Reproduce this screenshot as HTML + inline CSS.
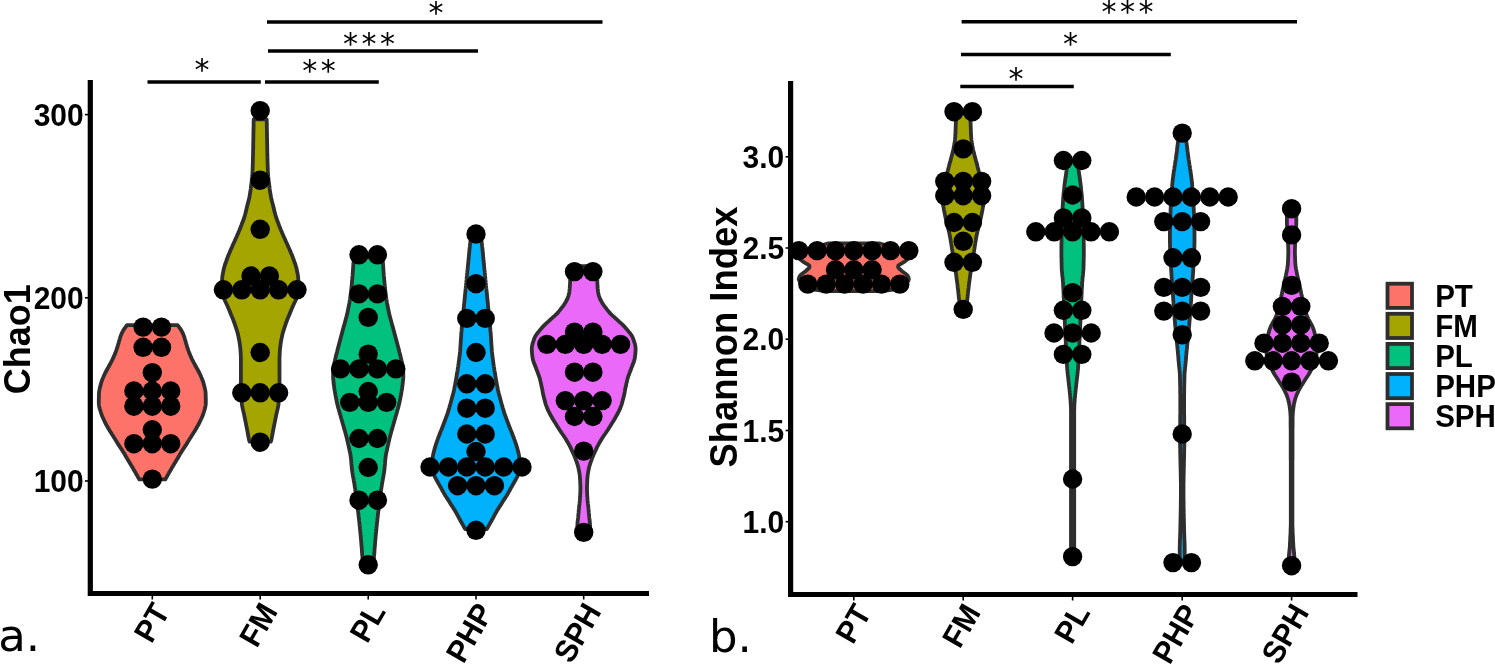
<!DOCTYPE html>
<html><head><meta charset="utf-8"><title>Violin plots</title>
<style>html,body{margin:0;padding:0;background:#fff}svg{display:block}</style>
</head><body>
<svg width="1495" height="664" viewBox="0 0 1495 664"><path d="M127.0,325.1 L125.9,326.6 L124.8,328.1 L123.8,329.6 L122.9,331.1 L122.1,332.6 L121.4,334.1 L120.8,335.6 L120.3,337.1 L119.9,338.6 L119.4,340.1 L119.0,341.6 L118.6,343.1 L118.1,344.6 L117.7,346.1 L117.2,347.6 L116.7,349.1 L116.2,350.6 L115.6,352.1 L115.1,353.6 L114.4,355.1 L113.8,356.6 L113.1,358.1 L112.4,359.6 L111.6,361.1 L110.9,362.6 L110.1,364.0 L109.3,365.5 L108.5,367.0 L107.6,368.5 L106.8,370.0 L106.0,371.5 L105.2,373.0 L104.5,374.5 L103.8,376.0 L103.2,377.5 L102.5,379.0 L102.0,380.5 L101.4,382.0 L101.0,383.5 L100.6,385.0 L100.2,386.5 L99.8,388.0 L99.5,389.5 L99.2,391.0 L99.0,392.5 L99.0,394.0 L98.9,395.5 L98.9,397.0 L98.8,398.5 L98.8,400.0 L98.8,401.5 L98.8,403.0 L98.9,404.5 L99.1,406.0 L99.4,407.5 L99.8,409.0 L100.3,410.5 L100.7,412.0 L101.2,413.5 L101.7,415.0 L102.3,416.5 L103.0,418.0 L103.7,419.5 L104.4,421.0 L105.1,422.5 L105.9,424.0 L106.7,425.5 L107.6,427.0 L108.4,428.5 L109.3,430.0 L110.2,431.5 L111.2,433.0 L112.1,434.5 L113.1,436.0 L114.0,437.5 L115.0,439.0 L115.9,440.5 L116.8,441.9 L117.7,443.4 L118.6,444.9 L119.6,446.4 L120.6,447.9 L121.6,449.4 L122.6,450.9 L123.5,452.4 L124.5,453.9 L125.3,455.4 L126.2,456.9 L127.1,458.4 L128.0,459.9 L128.9,461.4 L129.8,462.9 L130.7,464.4 L131.6,465.9 L132.5,467.4 L133.3,468.9 L134.2,470.4 L135.1,471.9 L135.9,473.4 L136.8,474.9 L137.6,476.4 L138.5,477.9 L139.4,479.4 L165.2,479.4 L166.1,477.9 L167.0,476.4 L167.8,474.9 L168.7,473.4 L169.5,471.9 L170.4,470.4 L171.3,468.9 L172.1,467.4 L173.0,465.9 L173.9,464.4 L174.8,462.9 L175.7,461.4 L176.6,459.9 L177.5,458.4 L178.4,456.9 L179.3,455.4 L180.1,453.9 L181.1,452.4 L182.0,450.9 L183.0,449.4 L184.0,447.9 L185.0,446.4 L186.0,444.9 L186.9,443.4 L187.8,441.9 L188.7,440.5 L189.6,439.0 L190.6,437.5 L191.5,436.0 L192.5,434.5 L193.4,433.0 L194.4,431.5 L195.3,430.0 L196.2,428.5 L197.0,427.0 L197.9,425.5 L198.7,424.0 L199.5,422.5 L200.2,421.0 L200.9,419.5 L201.6,418.0 L202.3,416.5 L202.9,415.0 L203.4,413.5 L203.9,412.0 L204.3,410.5 L204.8,409.0 L205.2,407.5 L205.5,406.0 L205.7,404.5 L205.8,403.0 L205.8,401.5 L205.8,400.0 L205.8,398.5 L205.7,397.0 L205.7,395.5 L205.6,394.0 L205.6,392.5 L205.4,391.0 L205.1,389.5 L204.8,388.0 L204.4,386.5 L204.0,385.0 L203.6,383.5 L203.2,382.0 L202.6,380.5 L202.1,379.0 L201.4,377.5 L200.8,376.0 L200.1,374.5 L199.4,373.0 L198.6,371.5 L197.8,370.0 L197.0,368.5 L196.1,367.0 L195.3,365.5 L194.5,364.0 L193.7,362.6 L193.0,361.1 L192.2,359.6 L191.5,358.1 L190.8,356.6 L190.2,355.1 L189.5,353.6 L189.0,352.1 L188.4,350.6 L187.9,349.1 L187.4,347.6 L186.9,346.1 L186.5,344.6 L186.0,343.1 L185.6,341.6 L185.2,340.1 L184.7,338.6 L184.3,337.1 L183.8,335.6 L183.2,334.1 L182.5,332.6 L181.7,331.1 L180.8,329.6 L179.8,328.1 L178.7,326.6 L177.6,325.1Z" fill="#FE7369" stroke="#2e2e2e" stroke-width="3.8" stroke-linejoin="round"/>
<path d="M253.7,119.4 L253.7,120.9 L253.6,122.4 L253.6,123.9 L253.6,125.4 L253.6,126.9 L253.5,128.4 L253.5,129.9 L253.5,131.4 L253.4,132.9 L253.4,134.4 L253.4,135.9 L253.4,137.4 L253.3,138.9 L253.3,140.4 L253.3,141.9 L253.2,143.4 L253.2,144.9 L253.2,146.4 L253.2,147.9 L253.1,149.4 L253.1,150.9 L253.1,152.4 L253.0,153.9 L253.0,155.4 L253.0,156.9 L252.9,158.4 L252.9,159.9 L252.9,161.4 L252.8,162.9 L252.8,164.4 L252.7,165.9 L252.7,167.4 L252.6,168.9 L252.6,170.4 L252.5,171.9 L252.4,173.4 L252.3,174.9 L252.2,176.4 L252.0,177.9 L251.8,179.4 L251.7,180.9 L251.5,182.4 L251.3,183.9 L251.1,185.4 L250.9,186.9 L250.8,188.4 L250.6,189.9 L250.4,191.4 L250.1,192.9 L249.9,194.4 L249.6,195.9 L249.4,197.4 L249.0,198.9 L248.7,200.3 L248.3,201.8 L247.9,203.3 L247.5,204.8 L247.1,206.3 L246.8,207.8 L246.4,209.3 L246.1,210.8 L245.7,212.3 L245.3,213.8 L244.9,215.3 L244.4,216.8 L243.9,218.3 L243.4,219.8 L242.9,221.3 L242.3,222.8 L241.7,224.3 L241.2,225.8 L240.6,227.3 L240.0,228.8 L239.4,230.3 L238.7,231.8 L238.1,233.3 L237.4,234.8 L236.8,236.3 L236.1,237.8 L235.4,239.3 L234.8,240.8 L234.1,242.3 L233.4,243.8 L232.7,245.3 L232.1,246.8 L231.4,248.3 L230.7,249.8 L230.1,251.3 L229.5,252.8 L228.8,254.3 L228.2,255.8 L227.6,257.3 L227.1,258.8 L226.5,260.3 L226.0,261.8 L225.5,263.3 L224.9,264.8 L224.5,266.3 L224.0,267.8 L223.7,269.3 L223.4,270.8 L223.1,272.3 L222.8,273.8 L222.5,275.3 L222.3,276.8 L222.2,278.3 L222.1,279.8 L222.0,281.3 L221.9,282.8 L221.8,284.3 L221.7,285.8 L221.7,287.3 L221.8,288.8 L221.9,290.3 L222.2,291.8 L222.6,293.3 L223.0,294.8 L223.5,296.3 L223.9,297.8 L224.4,299.3 L225.0,300.8 L225.7,302.3 L226.4,303.8 L227.1,305.3 L227.8,306.8 L228.4,308.3 L229.1,309.8 L229.7,311.3 L230.3,312.8 L230.9,314.3 L231.5,315.8 L232.2,317.3 L232.8,318.8 L233.4,320.3 L233.9,321.8 L234.5,323.3 L235.0,324.8 L235.5,326.3 L236.0,327.8 L236.5,329.3 L237.0,330.8 L237.4,332.3 L237.8,333.8 L238.2,335.3 L238.5,336.8 L238.8,338.3 L239.1,339.8 L239.4,341.3 L239.6,342.8 L239.8,344.3 L240.0,345.8 L240.2,347.3 L240.4,348.8 L240.5,350.3 L240.6,351.8 L240.7,353.3 L240.8,354.8 L240.8,356.3 L240.9,357.8 L240.9,359.3 L240.9,360.8 L240.9,362.2 L240.9,363.7 L240.9,365.2 L240.9,366.7 L240.9,368.2 L240.9,369.7 L240.9,371.2 L240.9,372.7 L240.9,374.2 L240.9,375.7 L240.9,377.2 L240.9,378.7 L240.9,380.2 L240.9,381.7 L240.9,383.2 L240.9,384.7 L240.9,386.2 L240.9,387.7 L240.9,389.2 L241.0,390.7 L241.0,392.2 L241.1,393.7 L241.2,395.2 L241.3,396.7 L241.4,398.2 L241.5,399.7 L241.6,401.2 L241.8,402.7 L241.9,404.2 L242.1,405.7 L242.4,407.2 L242.7,408.7 L243.1,410.2 L243.4,411.7 L243.8,413.2 L244.1,414.7 L244.4,416.2 L244.7,417.7 L245.0,419.2 L245.3,420.7 L245.6,422.2 L245.9,423.7 L246.2,425.2 L246.5,426.7 L246.8,428.2 L247.1,429.7 L247.4,431.2 L247.7,432.7 L247.9,434.2 L248.2,435.7 L248.5,437.2 L248.8,438.7 L249.1,440.2 L249.7,441.7 L270.7,441.7 L271.3,440.2 L271.6,438.7 L271.9,437.2 L272.2,435.7 L272.5,434.2 L272.7,432.7 L273.0,431.2 L273.3,429.7 L273.6,428.2 L273.9,426.7 L274.2,425.2 L274.5,423.7 L274.8,422.2 L275.1,420.7 L275.4,419.2 L275.7,417.7 L276.0,416.2 L276.3,414.7 L276.6,413.2 L277.0,411.7 L277.3,410.2 L277.7,408.7 L278.0,407.2 L278.3,405.7 L278.5,404.2 L278.6,402.7 L278.8,401.2 L278.9,399.7 L279.0,398.2 L279.1,396.7 L279.2,395.2 L279.3,393.7 L279.4,392.2 L279.4,390.7 L279.5,389.2 L279.5,387.7 L279.5,386.2 L279.5,384.7 L279.5,383.2 L279.5,381.7 L279.5,380.2 L279.5,378.7 L279.5,377.2 L279.5,375.7 L279.5,374.2 L279.5,372.7 L279.5,371.2 L279.5,369.7 L279.5,368.2 L279.5,366.7 L279.5,365.2 L279.5,363.7 L279.5,362.2 L279.5,360.8 L279.5,359.3 L279.5,357.8 L279.6,356.3 L279.6,354.8 L279.7,353.3 L279.8,351.8 L279.9,350.3 L280.0,348.8 L280.2,347.3 L280.4,345.8 L280.6,344.3 L280.8,342.8 L281.0,341.3 L281.3,339.8 L281.6,338.3 L281.9,336.8 L282.2,335.3 L282.6,333.8 L283.0,332.3 L283.4,330.8 L283.9,329.3 L284.4,327.8 L284.9,326.3 L285.4,324.8 L285.9,323.3 L286.5,321.8 L287.0,320.3 L287.6,318.8 L288.2,317.3 L288.9,315.8 L289.5,314.3 L290.1,312.8 L290.7,311.3 L291.3,309.8 L292.0,308.3 L292.6,306.8 L293.3,305.3 L294.0,303.8 L294.7,302.3 L295.4,300.8 L296.0,299.3 L296.5,297.8 L296.9,296.3 L297.4,294.8 L297.8,293.3 L298.2,291.8 L298.5,290.3 L298.6,288.8 L298.7,287.3 L298.7,285.8 L298.6,284.3 L298.5,282.8 L298.4,281.3 L298.3,279.8 L298.2,278.3 L298.1,276.8 L297.9,275.3 L297.6,273.8 L297.3,272.3 L297.0,270.8 L296.7,269.3 L296.4,267.8 L295.9,266.3 L295.5,264.8 L294.9,263.3 L294.4,261.8 L293.9,260.3 L293.3,258.8 L292.8,257.3 L292.2,255.8 L291.6,254.3 L290.9,252.8 L290.3,251.3 L289.7,249.8 L289.0,248.3 L288.3,246.8 L287.7,245.3 L287.0,243.8 L286.3,242.3 L285.6,240.8 L285.0,239.3 L284.3,237.8 L283.6,236.3 L283.0,234.8 L282.3,233.3 L281.7,231.8 L281.0,230.3 L280.4,228.8 L279.8,227.3 L279.2,225.8 L278.7,224.3 L278.1,222.8 L277.5,221.3 L277.0,219.8 L276.5,218.3 L276.0,216.8 L275.5,215.3 L275.1,213.8 L274.7,212.3 L274.3,210.8 L274.0,209.3 L273.6,207.8 L273.3,206.3 L272.9,204.8 L272.5,203.3 L272.1,201.8 L271.7,200.3 L271.4,198.9 L271.0,197.4 L270.8,195.9 L270.5,194.4 L270.3,192.9 L270.0,191.4 L269.8,189.9 L269.6,188.4 L269.5,186.9 L269.3,185.4 L269.1,183.9 L268.9,182.4 L268.7,180.9 L268.6,179.4 L268.4,177.9 L268.2,176.4 L268.1,174.9 L268.0,173.4 L267.9,171.9 L267.8,170.4 L267.8,168.9 L267.7,167.4 L267.7,165.9 L267.6,164.4 L267.6,162.9 L267.5,161.4 L267.5,159.9 L267.5,158.4 L267.4,156.9 L267.4,155.4 L267.4,153.9 L267.3,152.4 L267.3,150.9 L267.3,149.4 L267.2,147.9 L267.2,146.4 L267.2,144.9 L267.2,143.4 L267.1,141.9 L267.1,140.4 L267.1,138.9 L267.0,137.4 L267.0,135.9 L267.0,134.4 L267.0,132.9 L266.9,131.4 L266.9,129.9 L266.9,128.4 L266.8,126.9 L266.8,125.4 L266.8,123.9 L266.8,122.4 L266.7,120.9 L266.7,119.4Z" fill="#A5A500" stroke="#2e2e2e" stroke-width="3.8" stroke-linejoin="round"/>
<path d="M354.1,257.4 L353.9,258.9 L353.7,260.4 L353.6,261.9 L353.4,263.4 L353.3,264.9 L353.2,266.4 L353.1,267.9 L353.0,269.4 L352.9,270.9 L352.8,272.4 L352.7,273.9 L352.6,275.4 L352.4,276.8 L352.3,278.3 L352.2,279.8 L352.0,281.3 L351.9,282.8 L351.8,284.3 L351.6,285.8 L351.5,287.3 L351.3,288.8 L351.2,290.3 L351.0,291.8 L350.8,293.3 L350.6,294.8 L350.4,296.3 L350.2,297.8 L350.0,299.3 L349.7,300.8 L349.5,302.3 L349.2,303.8 L348.9,305.3 L348.6,306.8 L348.3,308.3 L348.0,309.8 L347.7,311.3 L347.4,312.8 L347.1,314.3 L346.7,315.7 L346.3,317.2 L345.9,318.7 L345.5,320.2 L345.1,321.7 L344.7,323.2 L344.3,324.7 L343.9,326.2 L343.4,327.7 L343.0,329.2 L342.6,330.7 L342.2,332.2 L341.8,333.7 L341.4,335.2 L341.0,336.7 L340.6,338.2 L340.2,339.7 L339.8,341.2 L339.4,342.7 L339.0,344.2 L338.6,345.7 L338.2,347.2 L337.8,348.7 L337.4,350.2 L337.1,351.7 L336.7,353.2 L336.3,354.6 L335.9,356.1 L335.6,357.6 L335.3,359.1 L334.9,360.6 L334.6,362.1 L334.2,363.6 L334.0,365.1 L333.8,366.6 L333.6,368.1 L333.5,369.6 L333.3,371.1 L333.2,372.6 L333.1,374.1 L333.1,375.6 L333.1,377.1 L333.2,378.6 L333.3,380.1 L333.5,381.6 L333.6,383.1 L333.8,384.6 L334.0,386.1 L334.2,387.6 L334.4,389.1 L334.7,390.6 L334.9,392.0 L335.2,393.5 L335.4,395.0 L335.7,396.5 L336.0,398.0 L336.3,399.5 L336.6,401.0 L336.9,402.5 L337.3,404.0 L337.6,405.5 L338.0,407.0 L338.4,408.5 L338.9,410.0 L339.3,411.5 L339.7,413.0 L340.1,414.5 L340.6,416.0 L341.0,417.5 L341.4,419.0 L341.9,420.5 L342.3,422.0 L342.7,423.5 L343.2,425.0 L343.6,426.5 L344.0,428.0 L344.4,429.5 L344.9,430.9 L345.3,432.4 L345.7,433.9 L346.1,435.4 L346.5,436.9 L346.9,438.4 L347.2,439.9 L347.6,441.4 L347.9,442.9 L348.2,444.4 L348.6,445.9 L348.9,447.4 L349.2,448.9 L349.5,450.4 L349.9,451.9 L350.2,453.4 L350.5,454.9 L350.7,456.4 L350.9,457.9 L351.1,459.4 L351.2,460.9 L351.3,462.4 L351.4,463.9 L351.6,465.4 L351.7,466.9 L351.8,468.3 L352.0,469.8 L352.2,471.3 L352.4,472.8 L352.7,474.3 L352.9,475.8 L353.2,477.3 L353.5,478.8 L353.7,480.3 L354.0,481.8 L354.3,483.3 L354.5,484.8 L354.7,486.3 L355.0,487.8 L355.2,489.3 L355.4,490.8 L355.6,492.3 L355.8,493.8 L356.0,495.3 L356.2,496.8 L356.4,498.3 L356.6,499.8 L356.8,501.3 L357.0,502.8 L357.2,504.3 L357.4,505.8 L357.6,507.2 L357.8,508.7 L357.9,510.2 L358.1,511.7 L358.3,513.2 L358.5,514.7 L358.6,516.2 L358.8,517.7 L359.0,519.2 L359.1,520.7 L359.3,522.2 L359.5,523.7 L359.6,525.2 L359.8,526.7 L359.9,528.2 L360.1,529.7 L360.2,531.2 L360.4,532.7 L360.5,534.2 L360.7,535.7 L360.8,537.2 L360.9,538.7 L361.1,540.2 L361.2,541.7 L361.3,543.2 L361.4,544.7 L361.5,546.1 L361.7,547.6 L361.8,549.1 L361.9,550.6 L362.0,552.1 L362.1,553.6 L362.2,555.1 L362.4,556.6 L362.5,558.1 L362.6,559.6 L362.8,561.1 L362.9,562.6 L363.1,564.1 L373.3,564.1 L373.5,562.6 L373.6,561.1 L373.8,559.6 L373.9,558.1 L374.0,556.6 L374.2,555.1 L374.3,553.6 L374.4,552.1 L374.5,550.6 L374.6,549.1 L374.7,547.6 L374.9,546.1 L375.0,544.7 L375.1,543.2 L375.2,541.7 L375.3,540.2 L375.5,538.7 L375.6,537.2 L375.7,535.7 L375.9,534.2 L376.0,532.7 L376.2,531.2 L376.3,529.7 L376.5,528.2 L376.6,526.7 L376.8,525.2 L376.9,523.7 L377.1,522.2 L377.3,520.7 L377.4,519.2 L377.6,517.7 L377.8,516.2 L377.9,514.7 L378.1,513.2 L378.3,511.7 L378.5,510.2 L378.6,508.7 L378.8,507.2 L379.0,505.8 L379.2,504.3 L379.4,502.8 L379.6,501.3 L379.8,499.8 L380.0,498.3 L380.2,496.8 L380.4,495.3 L380.6,493.8 L380.8,492.3 L381.0,490.8 L381.2,489.3 L381.4,487.8 L381.7,486.3 L381.9,484.8 L382.1,483.3 L382.4,481.8 L382.7,480.3 L382.9,478.8 L383.2,477.3 L383.5,475.8 L383.7,474.3 L384.0,472.8 L384.2,471.3 L384.4,469.8 L384.6,468.3 L384.7,466.9 L384.8,465.4 L385.0,463.9 L385.1,462.4 L385.2,460.9 L385.3,459.4 L385.5,457.9 L385.7,456.4 L385.9,454.9 L386.2,453.4 L386.5,451.9 L386.9,450.4 L387.2,448.9 L387.5,447.4 L387.8,445.9 L388.2,444.4 L388.5,442.9 L388.8,441.4 L389.2,439.9 L389.5,438.4 L389.9,436.9 L390.3,435.4 L390.7,433.9 L391.1,432.4 L391.5,430.9 L392.0,429.5 L392.4,428.0 L392.8,426.5 L393.2,425.0 L393.7,423.5 L394.1,422.0 L394.5,420.5 L395.0,419.0 L395.4,417.5 L395.8,416.0 L396.3,414.5 L396.7,413.0 L397.1,411.5 L397.5,410.0 L398.0,408.5 L398.4,407.0 L398.8,405.5 L399.1,404.0 L399.5,402.5 L399.8,401.0 L400.1,399.5 L400.4,398.0 L400.7,396.5 L401.0,395.0 L401.2,393.5 L401.5,392.0 L401.7,390.6 L402.0,389.1 L402.2,387.6 L402.4,386.1 L402.6,384.6 L402.8,383.1 L402.9,381.6 L403.1,380.1 L403.2,378.6 L403.3,377.1 L403.3,375.6 L403.3,374.1 L403.2,372.6 L403.1,371.1 L402.9,369.6 L402.8,368.1 L402.6,366.6 L402.4,365.1 L402.2,363.6 L401.8,362.1 L401.5,360.6 L401.1,359.1 L400.8,357.6 L400.5,356.1 L400.1,354.6 L399.7,353.2 L399.3,351.7 L399.0,350.2 L398.6,348.7 L398.2,347.2 L397.8,345.7 L397.4,344.2 L397.0,342.7 L396.6,341.2 L396.2,339.7 L395.8,338.2 L395.4,336.7 L395.0,335.2 L394.6,333.7 L394.2,332.2 L393.8,330.7 L393.4,329.2 L393.0,327.7 L392.5,326.2 L392.1,324.7 L391.7,323.2 L391.3,321.7 L390.9,320.2 L390.5,318.7 L390.1,317.2 L389.7,315.7 L389.3,314.3 L389.0,312.8 L388.7,311.3 L388.4,309.8 L388.1,308.3 L387.8,306.8 L387.5,305.3 L387.2,303.8 L386.9,302.3 L386.7,300.8 L386.4,299.3 L386.2,297.8 L386.0,296.3 L385.8,294.8 L385.6,293.3 L385.4,291.8 L385.2,290.3 L385.1,288.8 L384.9,287.3 L384.8,285.8 L384.6,284.3 L384.5,282.8 L384.4,281.3 L384.2,279.8 L384.1,278.3 L384.0,276.8 L383.8,275.4 L383.7,273.9 L383.6,272.4 L383.5,270.9 L383.4,269.4 L383.3,267.9 L383.2,266.4 L383.1,264.9 L383.0,263.4 L382.8,261.9 L382.7,260.4 L382.5,258.9 L382.3,257.4Z" fill="#00C27E" stroke="#2e2e2e" stroke-width="3.8" stroke-linejoin="round"/>
<path d="M470.9,237.9 L470.7,239.4 L470.5,240.9 L470.3,242.4 L470.1,243.9 L469.9,245.4 L469.8,246.9 L469.6,248.3 L469.5,249.8 L469.3,251.3 L469.2,252.8 L469.0,254.3 L468.9,255.8 L468.8,257.3 L468.6,258.8 L468.5,260.3 L468.3,261.8 L468.2,263.3 L468.0,264.8 L467.9,266.3 L467.7,267.8 L467.6,269.2 L467.4,270.7 L467.3,272.2 L467.1,273.7 L467.0,275.2 L466.8,276.7 L466.7,278.2 L466.6,279.7 L466.4,281.2 L466.3,282.7 L466.1,284.2 L466.0,285.7 L465.8,287.2 L465.7,288.7 L465.5,290.1 L465.4,291.6 L465.2,293.1 L465.1,294.6 L464.9,296.1 L464.8,297.6 L464.6,299.1 L464.5,300.6 L464.3,302.1 L464.2,303.6 L464.0,305.1 L463.9,306.6 L463.7,308.1 L463.6,309.6 L463.4,311.0 L463.3,312.5 L463.1,314.0 L463.0,315.5 L462.8,317.0 L462.7,318.5 L462.5,320.0 L462.4,321.5 L462.3,323.0 L462.1,324.5 L462.0,326.0 L461.8,327.5 L461.7,329.0 L461.6,330.5 L461.4,331.9 L461.3,333.4 L461.2,334.9 L461.1,336.4 L461.0,337.9 L460.9,339.4 L460.8,340.9 L460.7,342.4 L460.6,343.9 L460.5,345.4 L460.4,346.9 L460.3,348.4 L460.2,349.9 L460.1,351.4 L459.9,352.8 L459.8,354.3 L459.6,355.8 L459.4,357.3 L459.2,358.8 L459.0,360.3 L458.8,361.8 L458.6,363.3 L458.4,364.8 L458.2,366.3 L457.9,367.8 L457.7,369.3 L457.5,370.8 L457.2,372.3 L457.0,373.7 L456.7,375.2 L456.5,376.7 L456.3,378.2 L456.0,379.7 L455.7,381.2 L455.5,382.7 L455.2,384.2 L454.9,385.7 L454.6,387.2 L454.3,388.7 L454.0,390.2 L453.6,391.7 L453.3,393.2 L452.9,394.6 L452.5,396.1 L452.1,397.6 L451.7,399.1 L451.3,400.6 L450.9,402.1 L450.5,403.6 L450.0,405.1 L449.6,406.6 L449.2,408.1 L448.7,409.6 L448.2,411.1 L447.8,412.6 L447.3,414.1 L446.8,415.5 L446.2,417.0 L445.7,418.5 L445.2,420.0 L444.6,421.5 L444.0,423.0 L443.4,424.5 L442.9,426.0 L442.3,427.5 L441.7,429.0 L441.1,430.5 L440.4,432.0 L439.9,433.5 L439.3,435.0 L438.7,436.4 L438.2,437.9 L437.7,439.4 L437.1,440.9 L436.6,442.4 L436.1,443.9 L435.6,445.4 L435.2,446.9 L434.7,448.4 L434.3,449.9 L433.9,451.4 L433.5,452.9 L433.2,454.4 L432.9,455.9 L432.7,457.3 L432.5,458.8 L432.4,460.3 L432.4,461.8 L432.3,463.3 L432.3,464.8 L432.3,466.3 L432.4,467.8 L432.6,469.3 L432.9,470.8 L433.2,472.3 L433.6,473.8 L434.2,475.3 L434.8,476.8 L435.5,478.2 L436.3,479.7 L437.2,481.2 L438.0,482.7 L438.9,484.2 L439.7,485.7 L440.6,487.2 L441.4,488.7 L442.2,490.2 L443.1,491.7 L443.9,493.2 L444.8,494.7 L445.7,496.2 L446.7,497.7 L447.6,499.1 L448.6,500.6 L449.5,502.1 L450.4,503.6 L451.4,505.1 L452.4,506.6 L453.3,508.1 L454.3,509.6 L455.2,511.1 L456.0,512.6 L456.9,514.1 L457.7,515.6 L458.5,517.1 L459.3,518.6 L460.1,520.0 L460.9,521.5 L461.8,523.0 L462.6,524.5 L463.5,526.0 L464.3,527.5 L465.2,529.0 L486.8,529.0 L487.7,527.5 L488.5,526.0 L489.4,524.5 L490.2,523.0 L491.1,521.5 L491.9,520.0 L492.7,518.6 L493.5,517.1 L494.3,515.6 L495.1,514.1 L496.0,512.6 L496.8,511.1 L497.7,509.6 L498.7,508.1 L499.6,506.6 L500.6,505.1 L501.6,503.6 L502.5,502.1 L503.4,500.6 L504.4,499.1 L505.3,497.7 L506.3,496.2 L507.2,494.7 L508.1,493.2 L508.9,491.7 L509.8,490.2 L510.6,488.7 L511.4,487.2 L512.3,485.7 L513.1,484.2 L514.0,482.7 L514.8,481.2 L515.7,479.7 L516.5,478.2 L517.2,476.8 L517.8,475.3 L518.4,473.8 L518.8,472.3 L519.1,470.8 L519.4,469.3 L519.6,467.8 L519.7,466.3 L519.7,464.8 L519.7,463.3 L519.6,461.8 L519.6,460.3 L519.5,458.8 L519.3,457.3 L519.1,455.9 L518.8,454.4 L518.5,452.9 L518.1,451.4 L517.7,449.9 L517.3,448.4 L516.8,446.9 L516.4,445.4 L515.9,443.9 L515.4,442.4 L514.9,440.9 L514.3,439.4 L513.8,437.9 L513.3,436.4 L512.7,435.0 L512.1,433.5 L511.6,432.0 L510.9,430.5 L510.3,429.0 L509.7,427.5 L509.1,426.0 L508.6,424.5 L508.0,423.0 L507.4,421.5 L506.8,420.0 L506.3,418.5 L505.8,417.0 L505.2,415.5 L504.7,414.1 L504.2,412.6 L503.8,411.1 L503.3,409.6 L502.8,408.1 L502.4,406.6 L502.0,405.1 L501.5,403.6 L501.1,402.1 L500.7,400.6 L500.3,399.1 L499.9,397.6 L499.5,396.1 L499.1,394.6 L498.7,393.2 L498.4,391.7 L498.0,390.2 L497.7,388.7 L497.4,387.2 L497.1,385.7 L496.8,384.2 L496.5,382.7 L496.3,381.2 L496.0,379.7 L495.7,378.2 L495.5,376.7 L495.3,375.2 L495.0,373.7 L494.8,372.3 L494.5,370.8 L494.3,369.3 L494.1,367.8 L493.8,366.3 L493.6,364.8 L493.4,363.3 L493.2,361.8 L493.0,360.3 L492.8,358.8 L492.6,357.3 L492.4,355.8 L492.2,354.3 L492.1,352.8 L491.9,351.4 L491.8,349.9 L491.7,348.4 L491.6,346.9 L491.5,345.4 L491.4,343.9 L491.3,342.4 L491.2,340.9 L491.1,339.4 L491.0,337.9 L490.9,336.4 L490.8,334.9 L490.7,333.4 L490.6,331.9 L490.4,330.5 L490.3,329.0 L490.2,327.5 L490.0,326.0 L489.9,324.5 L489.7,323.0 L489.6,321.5 L489.5,320.0 L489.3,318.5 L489.2,317.0 L489.0,315.5 L488.9,314.0 L488.7,312.5 L488.6,311.0 L488.4,309.6 L488.3,308.1 L488.1,306.6 L488.0,305.1 L487.8,303.6 L487.7,302.1 L487.5,300.6 L487.4,299.1 L487.2,297.6 L487.1,296.1 L486.9,294.6 L486.8,293.1 L486.6,291.6 L486.5,290.1 L486.3,288.7 L486.2,287.2 L486.0,285.7 L485.9,284.2 L485.7,282.7 L485.6,281.2 L485.4,279.7 L485.3,278.2 L485.2,276.7 L485.0,275.2 L484.9,273.7 L484.7,272.2 L484.6,270.7 L484.4,269.2 L484.3,267.8 L484.1,266.3 L484.0,264.8 L483.8,263.3 L483.7,261.8 L483.5,260.3 L483.4,258.8 L483.2,257.3 L483.1,255.8 L483.0,254.3 L482.8,252.8 L482.7,251.3 L482.5,249.8 L482.4,248.3 L482.2,246.9 L482.1,245.4 L481.9,243.9 L481.7,242.4 L481.5,240.9 L481.3,239.4 L481.1,237.9Z" fill="#00B1FB" stroke="#2e2e2e" stroke-width="3.8" stroke-linejoin="round"/>
<path d="M570.6,266.1 L570.6,267.6 L570.6,269.1 L570.5,270.6 L570.5,272.1 L570.4,273.6 L570.4,275.1 L570.3,276.6 L570.3,278.1 L570.2,279.5 L570.1,281.0 L570.1,282.5 L570.0,284.0 L569.9,285.5 L569.8,287.0 L569.7,288.5 L569.5,290.0 L569.4,291.5 L569.2,293.0 L568.8,294.5 L568.4,296.0 L567.9,297.5 L567.3,299.0 L566.5,300.5 L565.7,302.0 L564.8,303.5 L563.8,305.0 L562.8,306.4 L561.6,307.9 L560.5,309.4 L559.3,310.9 L558.1,312.4 L556.7,313.9 L555.1,315.4 L553.4,316.9 L551.7,318.4 L550.1,319.9 L548.5,321.4 L546.8,322.9 L545.2,324.4 L543.7,325.9 L542.2,327.4 L540.9,328.9 L539.7,330.4 L538.5,331.9 L537.3,333.3 L536.3,334.8 L535.3,336.3 L534.6,337.8 L534.0,339.3 L533.5,340.8 L533.0,342.3 L532.5,343.8 L532.2,345.3 L531.9,346.8 L531.8,348.3 L531.8,349.8 L531.9,351.3 L532.0,352.8 L532.1,354.3 L532.3,355.8 L532.5,357.3 L532.7,358.8 L533.1,360.2 L533.5,361.7 L534.1,363.2 L534.7,364.7 L535.3,366.2 L535.9,367.7 L536.4,369.2 L537.0,370.7 L537.6,372.2 L538.1,373.7 L538.7,375.2 L539.2,376.7 L539.7,378.2 L540.1,379.7 L540.4,381.2 L540.8,382.7 L541.1,384.2 L541.4,385.7 L541.7,387.1 L542.1,388.6 L542.4,390.1 L542.6,391.6 L542.9,393.1 L543.2,394.6 L543.5,396.1 L543.9,397.6 L544.3,399.1 L544.7,400.6 L545.1,402.1 L545.5,403.6 L546.0,405.1 L546.6,406.6 L547.1,408.1 L547.8,409.6 L548.5,411.1 L549.2,412.5 L550.0,414.0 L550.8,415.5 L551.7,417.0 L552.5,418.5 L553.4,420.0 L554.3,421.5 L555.3,423.0 L556.2,424.5 L557.1,426.0 L558.1,427.5 L559.0,429.0 L560.0,430.5 L561.0,432.0 L562.0,433.5 L563.1,435.0 L564.1,436.5 L565.1,438.0 L566.0,439.4 L566.9,440.9 L567.8,442.4 L568.6,443.9 L569.4,445.4 L570.2,446.9 L570.9,448.4 L571.6,449.9 L572.3,451.4 L573.0,452.9 L573.7,454.4 L574.3,455.9 L574.9,457.4 L575.5,458.9 L576.0,460.4 L576.6,461.9 L577.1,463.4 L577.6,464.9 L578.0,466.3 L578.4,467.8 L578.7,469.3 L579.0,470.8 L579.3,472.3 L579.5,473.8 L579.7,475.3 L579.9,476.8 L580.0,478.3 L580.1,479.8 L580.2,481.3 L580.2,482.8 L580.3,484.3 L580.4,485.8 L580.4,487.3 L580.4,488.8 L580.4,490.3 L580.3,491.8 L580.3,493.2 L580.2,494.7 L580.1,496.2 L580.0,497.7 L579.9,499.2 L579.8,500.7 L579.6,502.2 L579.5,503.7 L579.3,505.2 L579.1,506.7 L579.0,508.2 L578.8,509.7 L578.7,511.2 L578.6,512.7 L578.4,514.2 L578.3,515.7 L578.2,517.2 L578.0,518.7 L577.8,520.1 L577.6,521.6 L577.5,523.1 L577.4,524.6 L577.3,526.1 L577.2,527.6 L577.2,529.1 L577.1,530.6 L577.1,532.1 L590.3,532.1 L590.3,530.6 L590.2,529.1 L590.2,527.6 L590.1,526.1 L590.0,524.6 L589.9,523.1 L589.8,521.6 L589.6,520.1 L589.4,518.7 L589.2,517.2 L589.1,515.7 L589.0,514.2 L588.8,512.7 L588.7,511.2 L588.6,509.7 L588.4,508.2 L588.3,506.7 L588.1,505.2 L587.9,503.7 L587.8,502.2 L587.6,500.7 L587.5,499.2 L587.4,497.7 L587.3,496.2 L587.2,494.7 L587.1,493.2 L587.1,491.8 L587.0,490.3 L587.0,488.8 L587.0,487.3 L587.0,485.8 L587.1,484.3 L587.2,482.8 L587.2,481.3 L587.3,479.8 L587.4,478.3 L587.5,476.8 L587.7,475.3 L587.9,473.8 L588.1,472.3 L588.4,470.8 L588.7,469.3 L589.0,467.8 L589.4,466.3 L589.8,464.9 L590.3,463.4 L590.8,461.9 L591.4,460.4 L591.9,458.9 L592.5,457.4 L593.1,455.9 L593.7,454.4 L594.4,452.9 L595.1,451.4 L595.8,449.9 L596.5,448.4 L597.2,446.9 L598.0,445.4 L598.8,443.9 L599.6,442.4 L600.5,440.9 L601.4,439.4 L602.3,438.0 L603.3,436.5 L604.3,435.0 L605.4,433.5 L606.4,432.0 L607.4,430.5 L608.4,429.0 L609.3,427.5 L610.3,426.0 L611.2,424.5 L612.1,423.0 L613.1,421.5 L614.0,420.0 L614.9,418.5 L615.7,417.0 L616.6,415.5 L617.4,414.0 L618.2,412.5 L618.9,411.1 L619.6,409.6 L620.3,408.1 L620.8,406.6 L621.4,405.1 L621.9,403.6 L622.3,402.1 L622.7,400.6 L623.1,399.1 L623.5,397.6 L623.9,396.1 L624.2,394.6 L624.5,393.1 L624.8,391.6 L625.0,390.1 L625.3,388.6 L625.7,387.1 L626.0,385.7 L626.3,384.2 L626.6,382.7 L627.0,381.2 L627.3,379.7 L627.7,378.2 L628.2,376.7 L628.7,375.2 L629.3,373.7 L629.8,372.2 L630.4,370.7 L631.0,369.2 L631.5,367.7 L632.1,366.2 L632.7,364.7 L633.3,363.2 L633.9,361.7 L634.3,360.2 L634.7,358.8 L634.9,357.3 L635.1,355.8 L635.3,354.3 L635.4,352.8 L635.5,351.3 L635.6,349.8 L635.6,348.3 L635.5,346.8 L635.2,345.3 L634.9,343.8 L634.4,342.3 L633.9,340.8 L633.4,339.3 L632.8,337.8 L632.1,336.3 L631.1,334.8 L630.1,333.3 L628.9,331.9 L627.7,330.4 L626.5,328.9 L625.2,327.4 L623.7,325.9 L622.2,324.4 L620.6,322.9 L618.9,321.4 L617.3,319.9 L615.7,318.4 L614.0,316.9 L612.3,315.4 L610.7,313.9 L609.3,312.4 L608.1,310.9 L606.9,309.4 L605.8,307.9 L604.6,306.4 L603.6,305.0 L602.6,303.5 L601.7,302.0 L600.9,300.5 L600.1,299.0 L599.5,297.5 L599.0,296.0 L598.6,294.5 L598.2,293.0 L598.0,291.5 L597.9,290.0 L597.7,288.5 L597.6,287.0 L597.5,285.5 L597.4,284.0 L597.3,282.5 L597.3,281.0 L597.2,279.5 L597.1,278.1 L597.1,276.6 L597.0,275.1 L597.0,273.6 L596.9,272.1 L596.9,270.6 L596.8,269.1 L596.8,267.6 L596.8,266.1Z" fill="#EA69F8" stroke="#2e2e2e" stroke-width="3.8" stroke-linejoin="round"/>
<g fill="#000"><circle cx="143.1" cy="327.1" r="9.7"/><circle cx="161.5" cy="327.1" r="9.7"/><circle cx="143.1" cy="347.3" r="9.7"/><circle cx="161.5" cy="347.3" r="9.7"/><circle cx="152.3" cy="372.6" r="9.7"/><circle cx="133.9" cy="391.0" r="9.7"/><circle cx="152.3" cy="391.0" r="9.7"/><circle cx="170.7" cy="391.0" r="9.7"/><circle cx="133.9" cy="406.2" r="9.7"/><circle cx="152.3" cy="406.2" r="9.7"/><circle cx="170.7" cy="406.2" r="9.7"/><circle cx="152.3" cy="429.8" r="9.7"/><circle cx="133.9" cy="443.7" r="9.7"/><circle cx="152.3" cy="443.7" r="9.7"/><circle cx="170.7" cy="443.7" r="9.7"/><circle cx="152.3" cy="479.1" r="9.7"/><circle cx="260.2" cy="110.7" r="9.7"/><circle cx="260.2" cy="180.2" r="9.7"/><circle cx="260.2" cy="229.3" r="9.7"/><circle cx="251.0" cy="276.0" r="9.7"/><circle cx="269.4" cy="276.0" r="9.7"/><circle cx="223.4" cy="289.8" r="9.7"/><circle cx="241.8" cy="289.8" r="9.7"/><circle cx="260.2" cy="289.8" r="9.7"/><circle cx="278.6" cy="289.8" r="9.7"/><circle cx="297.0" cy="289.8" r="9.7"/><circle cx="260.2" cy="352.5" r="9.7"/><circle cx="241.8" cy="392.8" r="9.7"/><circle cx="260.2" cy="392.8" r="9.7"/><circle cx="278.6" cy="392.8" r="9.7"/><circle cx="260.2" cy="442.2" r="9.7"/><circle cx="359.0" cy="254.8" r="9.7"/><circle cx="377.4" cy="254.8" r="9.7"/><circle cx="359.0" cy="293.9" r="9.7"/><circle cx="377.4" cy="293.9" r="9.7"/><circle cx="368.2" cy="317.4" r="9.7"/><circle cx="368.2" cy="354.1" r="9.7"/><circle cx="340.6" cy="368.9" r="9.7"/><circle cx="359.0" cy="368.9" r="9.7"/><circle cx="377.4" cy="368.9" r="9.7"/><circle cx="395.8" cy="368.9" r="9.7"/><circle cx="368.2" cy="391.5" r="9.7"/><circle cx="349.8" cy="402.4" r="9.7"/><circle cx="368.2" cy="402.4" r="9.7"/><circle cx="386.6" cy="402.4" r="9.7"/><circle cx="359.0" cy="438.5" r="9.7"/><circle cx="377.4" cy="438.5" r="9.7"/><circle cx="368.2" cy="467.5" r="9.7"/><circle cx="359.0" cy="500.2" r="9.7"/><circle cx="377.4" cy="500.2" r="9.7"/><circle cx="368.2" cy="564.8" r="9.7"/><circle cx="476.0" cy="234.0" r="9.7"/><circle cx="476.0" cy="283.7" r="9.7"/><circle cx="466.8" cy="318.4" r="9.7"/><circle cx="485.2" cy="318.4" r="9.7"/><circle cx="476.0" cy="352.5" r="9.7"/><circle cx="466.8" cy="383.8" r="9.7"/><circle cx="485.2" cy="383.8" r="9.7"/><circle cx="466.8" cy="408.2" r="9.7"/><circle cx="485.2" cy="408.2" r="9.7"/><circle cx="466.8" cy="434.0" r="9.7"/><circle cx="485.2" cy="434.0" r="9.7"/><circle cx="476.0" cy="451.5" r="9.7"/><circle cx="430.0" cy="467.0" r="9.7"/><circle cx="448.4" cy="467.0" r="9.7"/><circle cx="466.8" cy="467.0" r="9.7"/><circle cx="485.2" cy="467.0" r="9.7"/><circle cx="503.6" cy="467.0" r="9.7"/><circle cx="522.0" cy="467.0" r="9.7"/><circle cx="457.6" cy="485.7" r="9.7"/><circle cx="476.0" cy="485.7" r="9.7"/><circle cx="494.4" cy="485.7" r="9.7"/><circle cx="476.0" cy="530.3" r="9.7"/><circle cx="574.5" cy="271.6" r="9.7"/><circle cx="592.9" cy="271.6" r="9.7"/><circle cx="574.5" cy="332.1" r="9.7"/><circle cx="592.9" cy="332.1" r="9.7"/><circle cx="546.9" cy="344.4" r="9.7"/><circle cx="565.3" cy="344.4" r="9.7"/><circle cx="583.7" cy="344.4" r="9.7"/><circle cx="602.1" cy="344.4" r="9.7"/><circle cx="620.5" cy="344.4" r="9.7"/><circle cx="574.5" cy="372.2" r="9.7"/><circle cx="592.9" cy="372.2" r="9.7"/><circle cx="565.3" cy="400.6" r="9.7"/><circle cx="583.7" cy="400.6" r="9.7"/><circle cx="602.1" cy="400.6" r="9.7"/><circle cx="574.5" cy="416.5" r="9.7"/><circle cx="592.9" cy="416.5" r="9.7"/><circle cx="583.7" cy="451.1" r="9.7"/><circle cx="583.7" cy="532.4" r="9.7"/></g>
<path d="M827.7,243.5 L822.1,245.0 L817.8,246.5 L814.8,248.0 L812.1,249.4 L808.9,250.9 L804.3,252.4 L800.8,253.9 L799.2,255.4 L798.4,256.9 L799.1,258.4 L800.8,259.9 L802.6,261.4 L805.0,262.8 L807.6,264.3 L809.4,265.8 L809.5,267.3 L808.3,268.8 L806.5,270.3 L804.8,271.8 L802.8,273.2 L800.9,274.7 L799.7,276.2 L799.1,277.7 L798.7,279.2 L799.2,280.7 L801.0,282.2 L803.2,283.7 L805.2,285.2 L807.3,286.6 L810.1,288.1 L814.3,289.6 L825.7,291.1 L881.9,291.1 L893.3,289.6 L897.5,288.1 L900.3,286.6 L902.4,285.2 L904.4,283.7 L906.6,282.2 L908.4,280.7 L908.9,279.2 L908.5,277.7 L907.9,276.2 L906.7,274.7 L904.8,273.2 L902.8,271.8 L901.1,270.3 L899.3,268.8 L898.1,267.3 L898.2,265.8 L900.0,264.3 L902.6,262.8 L905.0,261.4 L906.8,259.9 L908.5,258.4 L909.2,256.9 L908.4,255.4 L906.8,253.9 L903.3,252.4 L898.7,250.9 L895.5,249.4 L892.8,248.0 L889.8,246.5 L885.5,245.0 L879.9,243.5Z" fill="#FE7369" stroke="#2e2e2e" stroke-width="3.8" stroke-linejoin="round"/>
<path d="M956.6,112.9 L956.5,114.4 L956.3,115.9 L956.2,117.4 L956.1,118.9 L956.0,120.4 L955.9,121.8 L955.8,123.3 L955.7,124.8 L955.7,126.3 L955.6,127.8 L955.6,129.3 L955.5,130.8 L955.5,132.3 L955.4,133.8 L955.3,135.3 L955.3,136.7 L955.1,138.2 L955.0,139.7 L954.8,141.2 L954.6,142.7 L954.4,144.2 L954.1,145.7 L953.8,147.2 L953.5,148.7 L953.2,150.2 L952.8,151.6 L952.5,153.1 L952.1,154.6 L951.7,156.1 L951.3,157.6 L950.9,159.1 L950.5,160.6 L950.0,162.1 L949.6,163.6 L949.2,165.1 L948.9,166.5 L948.5,168.0 L948.1,169.5 L947.7,171.0 L947.2,172.5 L946.7,174.0 L946.2,175.5 L945.6,177.0 L945.0,178.5 L944.5,180.0 L943.9,181.4 L943.4,182.9 L942.7,184.4 L942.2,185.9 L941.8,187.4 L941.6,188.9 L941.6,190.4 L941.6,191.9 L941.7,193.4 L941.7,194.9 L941.8,196.3 L941.8,197.8 L942.0,199.3 L942.2,200.8 L942.5,202.3 L942.8,203.8 L943.1,205.3 L943.4,206.8 L943.7,208.3 L943.9,209.8 L944.2,211.2 L944.5,212.7 L944.8,214.2 L945.1,215.7 L945.4,217.2 L945.8,218.7 L946.1,220.2 L946.5,221.7 L946.8,223.2 L947.2,224.7 L947.6,226.1 L948.0,227.6 L948.3,229.1 L948.7,230.6 L949.1,232.1 L949.4,233.6 L949.7,235.1 L950.0,236.6 L950.3,238.1 L950.5,239.6 L950.7,241.0 L951.0,242.5 L951.2,244.0 L951.5,245.5 L951.7,247.0 L951.9,248.5 L952.2,250.0 L952.4,251.5 L952.7,253.0 L952.9,254.5 L953.1,255.9 L953.4,257.4 L953.6,258.9 L953.8,260.4 L954.1,261.9 L954.3,263.4 L954.6,264.9 L954.8,266.4 L955.1,267.9 L955.3,269.4 L955.5,270.8 L955.8,272.3 L956.0,273.8 L956.2,275.3 L956.4,276.8 L956.6,278.3 L956.8,279.8 L957.0,281.3 L957.2,282.8 L957.4,284.3 L957.6,285.7 L957.7,287.2 L957.9,288.7 L958.1,290.2 L958.3,291.7 L958.4,293.2 L958.6,294.7 L958.7,296.2 L958.9,297.7 L959.1,299.2 L959.2,300.6 L959.4,302.1 L959.6,303.6 L959.8,305.1 L959.9,306.6 L960.1,308.1 L966.3,308.1 L966.5,306.6 L966.6,305.1 L966.8,303.6 L967.0,302.1 L967.2,300.6 L967.3,299.2 L967.5,297.7 L967.7,296.2 L967.8,294.7 L968.0,293.2 L968.1,291.7 L968.3,290.2 L968.5,288.7 L968.7,287.2 L968.8,285.7 L969.0,284.3 L969.2,282.8 L969.4,281.3 L969.6,279.8 L969.8,278.3 L970.0,276.8 L970.2,275.3 L970.4,273.8 L970.6,272.3 L970.9,270.8 L971.1,269.4 L971.3,267.9 L971.6,266.4 L971.8,264.9 L972.1,263.4 L972.3,261.9 L972.6,260.4 L972.8,258.9 L973.0,257.4 L973.3,255.9 L973.5,254.5 L973.7,253.0 L974.0,251.5 L974.2,250.0 L974.5,248.5 L974.7,247.0 L974.9,245.5 L975.2,244.0 L975.4,242.5 L975.7,241.0 L975.9,239.6 L976.1,238.1 L976.4,236.6 L976.7,235.1 L977.0,233.6 L977.3,232.1 L977.7,230.6 L978.1,229.1 L978.4,227.6 L978.8,226.1 L979.2,224.7 L979.6,223.2 L979.9,221.7 L980.3,220.2 L980.6,218.7 L981.0,217.2 L981.3,215.7 L981.6,214.2 L981.9,212.7 L982.2,211.2 L982.5,209.8 L982.7,208.3 L983.0,206.8 L983.3,205.3 L983.6,203.8 L983.9,202.3 L984.2,200.8 L984.4,199.3 L984.6,197.8 L984.6,196.3 L984.7,194.9 L984.7,193.4 L984.8,191.9 L984.8,190.4 L984.8,188.9 L984.6,187.4 L984.2,185.9 L983.7,184.4 L983.0,182.9 L982.5,181.4 L981.9,180.0 L981.4,178.5 L980.8,177.0 L980.2,175.5 L979.7,174.0 L979.2,172.5 L978.7,171.0 L978.3,169.5 L977.9,168.0 L977.5,166.5 L977.2,165.1 L976.8,163.6 L976.4,162.1 L975.9,160.6 L975.5,159.1 L975.1,157.6 L974.7,156.1 L974.3,154.6 L973.9,153.1 L973.6,151.6 L973.2,150.2 L972.9,148.7 L972.6,147.2 L972.3,145.7 L972.0,144.2 L971.8,142.7 L971.6,141.2 L971.4,139.7 L971.3,138.2 L971.1,136.7 L971.1,135.3 L971.0,133.8 L970.9,132.3 L970.9,130.8 L970.8,129.3 L970.8,127.8 L970.7,126.3 L970.7,124.8 L970.6,123.3 L970.5,121.8 L970.4,120.4 L970.3,118.9 L970.2,117.4 L970.1,115.9 L969.9,114.4 L969.8,112.9Z" fill="#A5A500" stroke="#2e2e2e" stroke-width="3.8" stroke-linejoin="round"/>
<path d="M1068.0,160.9 L1067.8,162.4 L1067.5,163.9 L1067.3,165.4 L1067.1,166.9 L1066.8,168.4 L1066.6,169.9 L1066.4,171.4 L1066.2,172.9 L1066.0,174.4 L1065.8,175.9 L1065.5,177.4 L1065.3,178.9 L1065.1,180.4 L1064.9,181.9 L1064.7,183.4 L1064.5,184.9 L1064.4,186.3 L1064.2,187.8 L1064.1,189.3 L1063.9,190.8 L1063.8,192.3 L1063.6,193.8 L1063.5,195.3 L1063.3,196.8 L1063.2,198.3 L1063.1,199.8 L1063.0,201.3 L1062.9,202.8 L1062.8,204.3 L1062.7,205.8 L1062.6,207.3 L1062.5,208.8 L1062.5,210.3 L1062.4,211.8 L1062.3,213.3 L1062.3,214.8 L1062.2,216.3 L1062.1,217.8 L1062.1,219.3 L1062.0,220.8 L1062.0,222.3 L1061.9,223.8 L1061.9,225.3 L1061.9,226.8 L1061.8,228.3 L1061.8,229.8 L1061.7,231.3 L1061.7,232.8 L1061.7,234.3 L1061.6,235.7 L1061.6,237.2 L1061.5,238.7 L1061.5,240.2 L1061.5,241.7 L1061.5,243.2 L1061.4,244.7 L1061.4,246.2 L1061.4,247.7 L1061.4,249.2 L1061.4,250.7 L1061.4,252.2 L1061.4,253.7 L1061.4,255.2 L1061.4,256.7 L1061.5,258.2 L1061.5,259.7 L1061.5,261.2 L1061.6,262.7 L1061.6,264.2 L1061.6,265.7 L1061.7,267.2 L1061.7,268.7 L1061.8,270.2 L1062.0,271.7 L1062.1,273.2 L1062.2,274.7 L1062.4,276.2 L1062.6,277.7 L1062.7,279.2 L1062.8,280.7 L1063.0,282.2 L1063.1,283.7 L1063.1,285.1 L1063.2,286.6 L1063.3,288.1 L1063.4,289.6 L1063.5,291.1 L1063.5,292.6 L1063.6,294.1 L1063.7,295.6 L1063.7,297.1 L1063.8,298.6 L1063.9,300.1 L1063.9,301.6 L1064.0,303.1 L1064.1,304.6 L1064.1,306.1 L1064.2,307.6 L1064.2,309.1 L1064.3,310.6 L1064.4,312.1 L1064.4,313.6 L1064.5,315.1 L1064.5,316.6 L1064.6,318.1 L1064.7,319.6 L1064.8,321.1 L1064.8,322.6 L1064.9,324.1 L1065.0,325.6 L1065.0,327.1 L1065.1,328.6 L1065.2,330.1 L1065.2,331.6 L1065.3,333.1 L1065.4,334.5 L1065.5,336.0 L1065.5,337.5 L1065.6,339.0 L1065.7,340.5 L1065.8,342.0 L1065.8,343.5 L1065.9,345.0 L1066.0,346.5 L1066.0,348.0 L1066.1,349.5 L1066.2,351.0 L1066.3,352.5 L1066.3,354.0 L1066.4,355.5 L1066.5,357.0 L1066.6,358.5 L1066.6,360.0 L1066.7,361.5 L1066.8,363.0 L1066.9,364.5 L1067.0,366.0 L1067.1,367.5 L1067.2,369.0 L1067.4,370.5 L1067.5,372.0 L1067.7,373.5 L1067.8,375.0 L1068.0,376.5 L1068.2,378.0 L1068.4,379.5 L1068.5,381.0 L1068.7,382.5 L1068.9,383.9 L1069.0,385.4 L1069.2,386.9 L1069.4,388.4 L1069.5,389.9 L1069.7,391.4 L1069.8,392.9 L1070.0,394.4 L1070.1,395.9 L1070.3,397.4 L1070.4,398.9 L1070.5,400.4 L1070.6,401.9 L1070.7,403.4 L1070.8,404.9 L1070.9,406.4 L1070.9,407.9 L1071.0,409.4 L1071.0,410.9 L1071.0,412.4 L1071.0,413.9 L1071.0,415.4 L1071.0,416.9 L1071.0,418.4 L1071.0,419.9 L1071.0,421.4 L1071.0,422.9 L1071.0,424.4 L1071.0,425.9 L1071.0,427.4 L1071.0,428.9 L1071.0,430.4 L1071.0,431.9 L1071.0,433.3 L1071.0,434.8 L1071.0,436.3 L1071.0,437.8 L1071.0,439.3 L1071.0,440.8 L1071.0,442.3 L1071.0,443.8 L1071.0,445.3 L1071.0,446.8 L1071.0,448.3 L1071.0,449.8 L1071.0,451.3 L1071.0,452.8 L1071.0,454.3 L1071.0,455.8 L1071.0,457.3 L1071.0,458.8 L1071.0,460.3 L1071.0,461.8 L1071.0,463.3 L1071.0,464.8 L1071.0,466.3 L1071.0,467.8 L1071.0,469.3 L1071.0,470.8 L1071.0,472.3 L1071.0,473.8 L1071.0,475.3 L1071.0,476.8 L1071.0,478.3 L1071.0,479.8 L1071.0,481.3 L1071.0,482.7 L1071.0,484.2 L1071.0,485.7 L1071.0,487.2 L1071.0,488.7 L1071.0,490.2 L1071.0,491.7 L1071.0,493.2 L1071.0,494.7 L1071.0,496.2 L1071.0,497.7 L1071.0,499.2 L1071.0,500.7 L1071.0,502.2 L1071.0,503.7 L1071.0,505.2 L1071.0,506.7 L1071.0,508.2 L1071.0,509.7 L1071.0,511.2 L1071.0,512.7 L1071.0,514.2 L1071.0,515.7 L1071.0,517.2 L1071.0,518.7 L1071.0,520.2 L1071.0,521.7 L1071.0,523.2 L1071.0,524.7 L1071.0,526.2 L1071.0,527.7 L1071.0,529.2 L1071.0,530.7 L1071.0,532.1 L1071.0,533.6 L1071.0,535.1 L1071.0,536.6 L1071.0,538.1 L1071.0,539.6 L1071.0,541.1 L1071.0,542.6 L1071.0,544.1 L1071.0,545.6 L1071.0,547.1 L1071.0,548.6 L1071.0,550.1 L1071.0,551.6 L1071.0,553.1 L1071.0,554.6 L1071.0,556.1 L1074.2,556.1 L1074.2,554.6 L1074.2,553.1 L1074.2,551.6 L1074.2,550.1 L1074.2,548.6 L1074.2,547.1 L1074.2,545.6 L1074.2,544.1 L1074.2,542.6 L1074.2,541.1 L1074.2,539.6 L1074.2,538.1 L1074.2,536.6 L1074.2,535.1 L1074.2,533.6 L1074.2,532.1 L1074.2,530.7 L1074.2,529.2 L1074.2,527.7 L1074.2,526.2 L1074.2,524.7 L1074.2,523.2 L1074.2,521.7 L1074.2,520.2 L1074.2,518.7 L1074.2,517.2 L1074.2,515.7 L1074.2,514.2 L1074.2,512.7 L1074.2,511.2 L1074.2,509.7 L1074.2,508.2 L1074.2,506.7 L1074.2,505.2 L1074.2,503.7 L1074.2,502.2 L1074.2,500.7 L1074.2,499.2 L1074.2,497.7 L1074.2,496.2 L1074.2,494.7 L1074.2,493.2 L1074.2,491.7 L1074.2,490.2 L1074.2,488.7 L1074.2,487.2 L1074.2,485.7 L1074.2,484.2 L1074.2,482.7 L1074.2,481.3 L1074.2,479.8 L1074.2,478.3 L1074.2,476.8 L1074.2,475.3 L1074.2,473.8 L1074.2,472.3 L1074.2,470.8 L1074.2,469.3 L1074.2,467.8 L1074.2,466.3 L1074.2,464.8 L1074.2,463.3 L1074.2,461.8 L1074.2,460.3 L1074.2,458.8 L1074.2,457.3 L1074.2,455.8 L1074.2,454.3 L1074.2,452.8 L1074.2,451.3 L1074.2,449.8 L1074.2,448.3 L1074.2,446.8 L1074.2,445.3 L1074.2,443.8 L1074.2,442.3 L1074.2,440.8 L1074.2,439.3 L1074.2,437.8 L1074.2,436.3 L1074.2,434.8 L1074.2,433.3 L1074.2,431.9 L1074.2,430.4 L1074.2,428.9 L1074.2,427.4 L1074.2,425.9 L1074.2,424.4 L1074.2,422.9 L1074.2,421.4 L1074.2,419.9 L1074.2,418.4 L1074.2,416.9 L1074.2,415.4 L1074.2,413.9 L1074.2,412.4 L1074.2,410.9 L1074.2,409.4 L1074.3,407.9 L1074.3,406.4 L1074.4,404.9 L1074.5,403.4 L1074.6,401.9 L1074.7,400.4 L1074.8,398.9 L1074.9,397.4 L1075.1,395.9 L1075.2,394.4 L1075.4,392.9 L1075.5,391.4 L1075.7,389.9 L1075.8,388.4 L1076.0,386.9 L1076.2,385.4 L1076.3,383.9 L1076.5,382.5 L1076.7,381.0 L1076.8,379.5 L1077.0,378.0 L1077.2,376.5 L1077.4,375.0 L1077.5,373.5 L1077.7,372.0 L1077.8,370.5 L1078.0,369.0 L1078.1,367.5 L1078.2,366.0 L1078.3,364.5 L1078.4,363.0 L1078.5,361.5 L1078.6,360.0 L1078.6,358.5 L1078.7,357.0 L1078.8,355.5 L1078.9,354.0 L1078.9,352.5 L1079.0,351.0 L1079.1,349.5 L1079.2,348.0 L1079.2,346.5 L1079.3,345.0 L1079.4,343.5 L1079.4,342.0 L1079.5,340.5 L1079.6,339.0 L1079.7,337.5 L1079.7,336.0 L1079.8,334.5 L1079.9,333.1 L1080.0,331.6 L1080.0,330.1 L1080.1,328.6 L1080.2,327.1 L1080.2,325.6 L1080.3,324.1 L1080.4,322.6 L1080.4,321.1 L1080.5,319.6 L1080.6,318.1 L1080.7,316.6 L1080.7,315.1 L1080.8,313.6 L1080.8,312.1 L1080.9,310.6 L1081.0,309.1 L1081.0,307.6 L1081.1,306.1 L1081.1,304.6 L1081.2,303.1 L1081.3,301.6 L1081.3,300.1 L1081.4,298.6 L1081.5,297.1 L1081.5,295.6 L1081.6,294.1 L1081.7,292.6 L1081.7,291.1 L1081.8,289.6 L1081.9,288.1 L1082.0,286.6 L1082.1,285.1 L1082.1,283.7 L1082.2,282.2 L1082.4,280.7 L1082.5,279.2 L1082.6,277.7 L1082.8,276.2 L1083.0,274.7 L1083.1,273.2 L1083.2,271.7 L1083.4,270.2 L1083.5,268.7 L1083.5,267.2 L1083.6,265.7 L1083.6,264.2 L1083.6,262.7 L1083.7,261.2 L1083.7,259.7 L1083.7,258.2 L1083.8,256.7 L1083.8,255.2 L1083.8,253.7 L1083.8,252.2 L1083.8,250.7 L1083.8,249.2 L1083.8,247.7 L1083.8,246.2 L1083.8,244.7 L1083.7,243.2 L1083.7,241.7 L1083.7,240.2 L1083.7,238.7 L1083.6,237.2 L1083.6,235.7 L1083.5,234.3 L1083.5,232.8 L1083.5,231.3 L1083.4,229.8 L1083.4,228.3 L1083.3,226.8 L1083.3,225.3 L1083.3,223.8 L1083.2,222.3 L1083.2,220.8 L1083.1,219.3 L1083.1,217.8 L1083.0,216.3 L1082.9,214.8 L1082.9,213.3 L1082.8,211.8 L1082.7,210.3 L1082.7,208.8 L1082.6,207.3 L1082.5,205.8 L1082.4,204.3 L1082.3,202.8 L1082.2,201.3 L1082.1,199.8 L1082.0,198.3 L1081.9,196.8 L1081.7,195.3 L1081.6,193.8 L1081.4,192.3 L1081.3,190.8 L1081.1,189.3 L1081.0,187.8 L1080.8,186.3 L1080.7,184.9 L1080.5,183.4 L1080.3,181.9 L1080.1,180.4 L1079.9,178.9 L1079.7,177.4 L1079.4,175.9 L1079.2,174.4 L1079.0,172.9 L1078.8,171.4 L1078.6,169.9 L1078.4,168.4 L1078.1,166.9 L1077.9,165.4 L1077.7,163.9 L1077.4,162.4 L1077.2,160.9Z" fill="#00C27E" stroke="#2e2e2e" stroke-width="3.8" stroke-linejoin="round"/>
<path d="M1179.1,135.9 L1178.8,137.4 L1178.6,138.9 L1178.3,140.4 L1178.0,141.9 L1177.8,143.4 L1177.6,144.9 L1177.4,146.4 L1177.2,147.9 L1177.0,149.4 L1176.9,150.9 L1176.7,152.3 L1176.5,153.8 L1176.3,155.3 L1176.1,156.8 L1175.9,158.3 L1175.7,159.8 L1175.4,161.3 L1175.2,162.8 L1175.0,164.3 L1174.7,165.8 L1174.5,167.3 L1174.3,168.8 L1174.0,170.3 L1173.8,171.8 L1173.6,173.3 L1173.4,174.8 L1173.2,176.3 L1173.0,177.8 L1172.8,179.3 L1172.6,180.8 L1172.5,182.3 L1172.3,183.8 L1172.2,185.2 L1172.1,186.7 L1171.9,188.2 L1171.8,189.7 L1171.7,191.2 L1171.6,192.7 L1171.5,194.2 L1171.4,195.7 L1171.3,197.2 L1171.2,198.7 L1171.1,200.2 L1171.0,201.7 L1170.9,203.2 L1170.9,204.7 L1170.8,206.2 L1170.7,207.7 L1170.6,209.2 L1170.6,210.7 L1170.5,212.2 L1170.5,213.7 L1170.4,215.2 L1170.4,216.7 L1170.3,218.1 L1170.2,219.6 L1170.2,221.1 L1170.1,222.6 L1170.1,224.1 L1170.1,225.6 L1170.0,227.1 L1170.0,228.6 L1170.0,230.1 L1169.9,231.6 L1169.9,233.1 L1169.9,234.6 L1169.9,236.1 L1169.9,237.6 L1169.9,239.1 L1169.9,240.6 L1169.9,242.1 L1170.0,243.6 L1170.0,245.1 L1170.0,246.6 L1170.1,248.1 L1170.1,249.6 L1170.1,251.0 L1170.2,252.5 L1170.2,254.0 L1170.3,255.5 L1170.4,257.0 L1170.5,258.5 L1170.6,260.0 L1170.7,261.5 L1170.8,263.0 L1170.9,264.5 L1171.0,266.0 L1171.1,267.5 L1171.1,269.0 L1171.2,270.5 L1171.3,272.0 L1171.4,273.5 L1171.5,275.0 L1171.6,276.5 L1171.7,278.0 L1171.8,279.5 L1171.9,281.0 L1172.0,282.5 L1172.1,283.9 L1172.2,285.4 L1172.4,286.9 L1172.5,288.4 L1172.6,289.9 L1172.7,291.4 L1172.8,292.9 L1172.9,294.4 L1173.0,295.9 L1173.1,297.4 L1173.2,298.9 L1173.3,300.4 L1173.4,301.9 L1173.5,303.4 L1173.6,304.9 L1173.8,306.4 L1173.9,307.9 L1174.0,309.4 L1174.1,310.9 L1174.2,312.4 L1174.3,313.9 L1174.4,315.4 L1174.5,316.8 L1174.6,318.3 L1174.7,319.8 L1174.9,321.3 L1175.0,322.8 L1175.1,324.3 L1175.2,325.8 L1175.4,327.3 L1175.5,328.8 L1175.6,330.3 L1175.8,331.8 L1175.9,333.3 L1176.1,334.8 L1176.2,336.3 L1176.4,337.8 L1176.6,339.3 L1176.7,340.8 L1176.9,342.3 L1177.0,343.8 L1177.2,345.3 L1177.3,346.8 L1177.5,348.3 L1177.6,349.7 L1177.8,351.2 L1177.9,352.7 L1178.0,354.2 L1178.2,355.7 L1178.3,357.2 L1178.4,358.7 L1178.5,360.2 L1178.7,361.7 L1178.8,363.2 L1179.0,364.7 L1179.1,366.2 L1179.3,367.7 L1179.4,369.2 L1179.6,370.7 L1179.7,372.2 L1179.8,373.7 L1179.9,375.2 L1179.9,376.7 L1180.0,378.2 L1180.0,379.7 L1180.0,381.2 L1180.1,382.6 L1180.1,384.1 L1180.1,385.6 L1180.2,387.1 L1180.2,388.6 L1180.2,390.1 L1180.2,391.6 L1180.2,393.1 L1180.3,394.6 L1180.3,396.1 L1180.3,397.6 L1180.3,399.1 L1180.3,400.6 L1180.3,402.1 L1180.3,403.6 L1180.3,405.1 L1180.3,406.6 L1180.3,408.1 L1180.3,409.6 L1180.3,411.1 L1180.3,412.6 L1180.3,414.1 L1180.2,415.5 L1180.2,417.0 L1180.2,418.5 L1180.2,420.0 L1180.2,421.5 L1180.2,423.0 L1180.2,424.5 L1180.2,426.0 L1180.2,427.5 L1180.1,429.0 L1180.1,430.5 L1180.1,432.0 L1180.1,433.5 L1180.1,435.0 L1180.1,436.5 L1180.1,438.0 L1180.1,439.5 L1180.1,441.0 L1180.1,442.5 L1180.1,444.0 L1180.1,445.5 L1180.1,447.0 L1180.2,448.4 L1180.2,449.9 L1180.2,451.4 L1180.2,452.9 L1180.3,454.4 L1180.3,455.9 L1180.3,457.4 L1180.4,458.9 L1180.4,460.4 L1180.4,461.9 L1180.5,463.4 L1180.5,464.9 L1180.5,466.4 L1180.6,467.9 L1180.6,469.4 L1180.6,470.9 L1180.7,472.4 L1180.7,473.9 L1180.7,475.4 L1180.8,476.9 L1180.8,478.4 L1180.8,479.9 L1180.8,481.3 L1180.9,482.8 L1180.9,484.3 L1180.9,485.8 L1180.9,487.3 L1180.9,488.8 L1180.9,490.3 L1180.9,491.8 L1180.9,493.3 L1180.9,494.8 L1180.9,496.3 L1180.9,497.8 L1180.9,499.3 L1180.8,500.8 L1180.8,502.3 L1180.8,503.8 L1180.8,505.3 L1180.8,506.8 L1180.7,508.3 L1180.7,509.8 L1180.7,511.3 L1180.7,512.8 L1180.6,514.2 L1180.6,515.7 L1180.6,517.2 L1180.5,518.7 L1180.5,520.2 L1180.5,521.7 L1180.4,523.2 L1180.4,524.7 L1180.4,526.2 L1180.3,527.7 L1180.3,529.2 L1180.3,530.7 L1180.2,532.2 L1180.2,533.7 L1180.1,535.2 L1180.1,536.7 L1180.0,538.2 L1180.0,539.7 L1179.9,541.2 L1179.8,542.7 L1179.8,544.2 L1179.8,545.7 L1179.7,547.1 L1179.7,548.6 L1179.7,550.1 L1179.7,551.6 L1179.7,553.1 L1179.7,554.6 L1179.7,556.1 L1179.7,557.6 L1179.7,559.1 L1179.7,560.6 L1179.7,562.1 L1184.7,562.1 L1184.7,560.6 L1184.7,559.1 L1184.7,557.6 L1184.7,556.1 L1184.7,554.6 L1184.7,553.1 L1184.7,551.6 L1184.7,550.1 L1184.7,548.6 L1184.7,547.1 L1184.6,545.7 L1184.6,544.2 L1184.6,542.7 L1184.5,541.2 L1184.4,539.7 L1184.4,538.2 L1184.3,536.7 L1184.3,535.2 L1184.2,533.7 L1184.2,532.2 L1184.1,530.7 L1184.1,529.2 L1184.1,527.7 L1184.0,526.2 L1184.0,524.7 L1184.0,523.2 L1183.9,521.7 L1183.9,520.2 L1183.9,518.7 L1183.8,517.2 L1183.8,515.7 L1183.8,514.2 L1183.7,512.8 L1183.7,511.3 L1183.7,509.8 L1183.7,508.3 L1183.6,506.8 L1183.6,505.3 L1183.6,503.8 L1183.6,502.3 L1183.6,500.8 L1183.5,499.3 L1183.5,497.8 L1183.5,496.3 L1183.5,494.8 L1183.5,493.3 L1183.5,491.8 L1183.5,490.3 L1183.5,488.8 L1183.5,487.3 L1183.5,485.8 L1183.5,484.3 L1183.5,482.8 L1183.6,481.3 L1183.6,479.9 L1183.6,478.4 L1183.6,476.9 L1183.7,475.4 L1183.7,473.9 L1183.7,472.4 L1183.8,470.9 L1183.8,469.4 L1183.8,467.9 L1183.9,466.4 L1183.9,464.9 L1183.9,463.4 L1184.0,461.9 L1184.0,460.4 L1184.0,458.9 L1184.1,457.4 L1184.1,455.9 L1184.1,454.4 L1184.2,452.9 L1184.2,451.4 L1184.2,449.9 L1184.2,448.4 L1184.3,447.0 L1184.3,445.5 L1184.3,444.0 L1184.3,442.5 L1184.3,441.0 L1184.3,439.5 L1184.3,438.0 L1184.3,436.5 L1184.3,435.0 L1184.3,433.5 L1184.3,432.0 L1184.3,430.5 L1184.3,429.0 L1184.2,427.5 L1184.2,426.0 L1184.2,424.5 L1184.2,423.0 L1184.2,421.5 L1184.2,420.0 L1184.2,418.5 L1184.2,417.0 L1184.2,415.5 L1184.1,414.1 L1184.1,412.6 L1184.1,411.1 L1184.1,409.6 L1184.1,408.1 L1184.1,406.6 L1184.1,405.1 L1184.1,403.6 L1184.1,402.1 L1184.1,400.6 L1184.1,399.1 L1184.1,397.6 L1184.1,396.1 L1184.1,394.6 L1184.2,393.1 L1184.2,391.6 L1184.2,390.1 L1184.2,388.6 L1184.2,387.1 L1184.3,385.6 L1184.3,384.1 L1184.3,382.6 L1184.4,381.2 L1184.4,379.7 L1184.4,378.2 L1184.5,376.7 L1184.5,375.2 L1184.6,373.7 L1184.7,372.2 L1184.8,370.7 L1185.0,369.2 L1185.1,367.7 L1185.3,366.2 L1185.4,364.7 L1185.6,363.2 L1185.7,361.7 L1185.9,360.2 L1186.0,358.7 L1186.1,357.2 L1186.2,355.7 L1186.4,354.2 L1186.5,352.7 L1186.6,351.2 L1186.8,349.7 L1186.9,348.3 L1187.1,346.8 L1187.2,345.3 L1187.4,343.8 L1187.5,342.3 L1187.7,340.8 L1187.8,339.3 L1188.0,337.8 L1188.2,336.3 L1188.3,334.8 L1188.5,333.3 L1188.6,331.8 L1188.8,330.3 L1188.9,328.8 L1189.0,327.3 L1189.2,325.8 L1189.3,324.3 L1189.4,322.8 L1189.5,321.3 L1189.7,319.8 L1189.8,318.3 L1189.9,316.8 L1190.0,315.4 L1190.1,313.9 L1190.2,312.4 L1190.3,310.9 L1190.4,309.4 L1190.5,307.9 L1190.6,306.4 L1190.8,304.9 L1190.9,303.4 L1191.0,301.9 L1191.1,300.4 L1191.2,298.9 L1191.3,297.4 L1191.4,295.9 L1191.5,294.4 L1191.6,292.9 L1191.7,291.4 L1191.8,289.9 L1191.9,288.4 L1192.0,286.9 L1192.2,285.4 L1192.3,283.9 L1192.4,282.5 L1192.5,281.0 L1192.6,279.5 L1192.7,278.0 L1192.8,276.5 L1192.9,275.0 L1193.0,273.5 L1193.1,272.0 L1193.2,270.5 L1193.3,269.0 L1193.3,267.5 L1193.4,266.0 L1193.5,264.5 L1193.6,263.0 L1193.7,261.5 L1193.8,260.0 L1193.9,258.5 L1194.0,257.0 L1194.1,255.5 L1194.2,254.0 L1194.2,252.5 L1194.3,251.0 L1194.3,249.6 L1194.3,248.1 L1194.4,246.6 L1194.4,245.1 L1194.4,243.6 L1194.5,242.1 L1194.5,240.6 L1194.5,239.1 L1194.5,237.6 L1194.5,236.1 L1194.5,234.6 L1194.5,233.1 L1194.5,231.6 L1194.4,230.1 L1194.4,228.6 L1194.4,227.1 L1194.3,225.6 L1194.3,224.1 L1194.3,222.6 L1194.2,221.1 L1194.2,219.6 L1194.1,218.1 L1194.0,216.7 L1194.0,215.2 L1193.9,213.7 L1193.9,212.2 L1193.8,210.7 L1193.8,209.2 L1193.7,207.7 L1193.6,206.2 L1193.5,204.7 L1193.5,203.2 L1193.4,201.7 L1193.3,200.2 L1193.2,198.7 L1193.1,197.2 L1193.0,195.7 L1192.9,194.2 L1192.8,192.7 L1192.7,191.2 L1192.6,189.7 L1192.5,188.2 L1192.3,186.7 L1192.2,185.2 L1192.1,183.8 L1191.9,182.3 L1191.8,180.8 L1191.6,179.3 L1191.4,177.8 L1191.2,176.3 L1191.0,174.8 L1190.8,173.3 L1190.6,171.8 L1190.4,170.3 L1190.1,168.8 L1189.9,167.3 L1189.7,165.8 L1189.4,164.3 L1189.2,162.8 L1189.0,161.3 L1188.7,159.8 L1188.5,158.3 L1188.3,156.8 L1188.1,155.3 L1187.9,153.8 L1187.7,152.3 L1187.5,150.9 L1187.4,149.4 L1187.2,147.9 L1187.0,146.4 L1186.8,144.9 L1186.6,143.4 L1186.4,141.9 L1186.1,140.4 L1185.8,138.9 L1185.6,137.4 L1185.3,135.9Z" fill="#00B1FB" stroke="#2e2e2e" stroke-width="3.8" stroke-linejoin="round"/>
<path d="M1286.9,208.9 L1286.9,210.4 L1286.9,211.9 L1286.9,213.4 L1286.9,214.9 L1286.9,216.4 L1286.9,217.9 L1286.9,219.4 L1286.9,220.9 L1286.9,222.4 L1286.9,223.9 L1287.0,225.4 L1287.0,226.9 L1287.1,228.4 L1287.2,229.9 L1287.3,231.3 L1287.3,232.8 L1287.4,234.3 L1287.5,235.8 L1287.6,237.3 L1287.7,238.8 L1287.8,240.3 L1287.9,241.8 L1288.0,243.3 L1288.1,244.8 L1288.2,246.3 L1288.2,247.8 L1288.3,249.3 L1288.3,250.8 L1288.3,252.3 L1288.3,253.8 L1288.2,255.3 L1288.2,256.8 L1288.1,258.3 L1288.1,259.8 L1288.0,261.3 L1287.9,262.8 L1287.8,264.3 L1287.7,265.8 L1287.4,267.3 L1287.2,268.8 L1286.9,270.3 L1286.6,271.8 L1286.3,273.3 L1286.0,274.8 L1285.7,276.2 L1285.3,277.7 L1285.0,279.2 L1284.6,280.7 L1284.3,282.2 L1284.0,283.7 L1283.7,285.2 L1283.4,286.7 L1283.0,288.2 L1282.7,289.7 L1282.4,291.2 L1282.1,292.7 L1281.8,294.2 L1281.4,295.7 L1281.1,297.2 L1280.7,298.7 L1280.4,300.2 L1280.1,301.7 L1279.7,303.2 L1279.3,304.7 L1279.0,306.2 L1278.6,307.7 L1278.2,309.2 L1277.8,310.7 L1277.4,312.2 L1277.0,313.7 L1276.5,315.2 L1275.9,316.7 L1275.3,318.2 L1274.5,319.7 L1273.6,321.1 L1272.8,322.6 L1272.0,324.1 L1271.2,325.6 L1270.5,327.1 L1269.9,328.6 L1269.4,330.1 L1269.0,331.6 L1268.6,333.1 L1268.2,334.6 L1267.9,336.1 L1267.6,337.6 L1267.3,339.1 L1267.1,340.6 L1266.9,342.1 L1266.7,343.6 L1266.5,345.1 L1266.4,346.6 L1266.3,348.1 L1266.2,349.6 L1266.2,351.1 L1266.4,352.6 L1266.6,354.1 L1266.9,355.6 L1267.3,357.1 L1267.6,358.6 L1268.0,360.1 L1268.4,361.6 L1269.0,363.1 L1269.5,364.6 L1270.2,366.0 L1270.9,367.5 L1271.6,369.0 L1272.4,370.5 L1273.2,372.0 L1274.0,373.5 L1274.9,375.0 L1275.9,376.5 L1276.9,378.0 L1277.9,379.5 L1278.8,381.0 L1279.8,382.5 L1280.7,384.0 L1281.7,385.5 L1282.6,387.0 L1283.5,388.5 L1284.3,390.0 L1285.0,391.5 L1285.7,393.0 L1286.4,394.5 L1287.0,396.0 L1287.5,397.5 L1288.0,399.0 L1288.4,400.5 L1288.7,402.0 L1289.1,403.5 L1289.4,405.0 L1289.6,406.5 L1289.8,408.0 L1290.0,409.4 L1290.2,410.9 L1290.3,412.4 L1290.4,413.9 L1290.5,415.4 L1290.6,416.9 L1290.6,418.4 L1290.6,419.9 L1290.6,421.4 L1290.6,422.9 L1290.6,424.4 L1290.6,425.9 L1290.6,427.4 L1290.7,428.9 L1290.7,430.4 L1290.7,431.9 L1290.7,433.4 L1290.7,434.9 L1290.7,436.4 L1290.7,437.9 L1290.7,439.4 L1290.7,440.9 L1290.7,442.4 L1290.7,443.9 L1290.7,445.4 L1290.7,446.9 L1290.7,448.4 L1290.7,449.9 L1290.7,451.4 L1290.7,452.9 L1290.7,454.3 L1290.7,455.8 L1290.7,457.3 L1290.7,458.8 L1290.8,460.3 L1290.8,461.8 L1290.8,463.3 L1290.8,464.8 L1290.8,466.3 L1290.8,467.8 L1290.8,469.3 L1290.8,470.8 L1290.8,472.3 L1290.8,473.8 L1290.8,475.3 L1290.8,476.8 L1290.8,478.3 L1290.8,479.8 L1290.8,481.3 L1290.8,482.8 L1290.8,484.3 L1290.8,485.8 L1290.8,487.3 L1290.8,488.8 L1290.8,490.3 L1290.8,491.8 L1290.8,493.3 L1290.8,494.8 L1290.8,496.3 L1290.8,497.8 L1290.8,499.2 L1290.8,500.7 L1290.8,502.2 L1290.8,503.7 L1290.8,505.2 L1290.8,506.7 L1290.8,508.2 L1290.8,509.7 L1290.8,511.2 L1290.8,512.7 L1290.8,514.2 L1290.8,515.7 L1290.8,517.2 L1290.8,518.7 L1290.8,520.2 L1290.8,521.7 L1290.8,523.2 L1290.8,524.7 L1290.7,526.2 L1290.7,527.7 L1290.6,529.2 L1290.6,530.7 L1290.5,532.2 L1290.5,533.7 L1290.4,535.2 L1290.3,536.7 L1290.2,538.2 L1290.2,539.7 L1290.1,541.2 L1290.0,542.7 L1289.9,544.1 L1289.9,545.6 L1289.8,547.1 L1289.6,548.6 L1289.5,550.1 L1289.3,551.6 L1289.2,553.1 L1289.0,554.6 L1288.9,556.1 L1288.9,557.6 L1288.9,559.1 L1288.9,560.6 L1288.9,562.1 L1288.9,563.6 L1288.9,565.1 L1294.3,565.1 L1294.3,563.6 L1294.3,562.1 L1294.3,560.6 L1294.3,559.1 L1294.3,557.6 L1294.3,556.1 L1294.2,554.6 L1294.0,553.1 L1293.9,551.6 L1293.7,550.1 L1293.6,548.6 L1293.4,547.1 L1293.3,545.6 L1293.3,544.1 L1293.2,542.7 L1293.1,541.2 L1293.0,539.7 L1293.0,538.2 L1292.9,536.7 L1292.8,535.2 L1292.7,533.7 L1292.7,532.2 L1292.6,530.7 L1292.6,529.2 L1292.5,527.7 L1292.5,526.2 L1292.4,524.7 L1292.4,523.2 L1292.4,521.7 L1292.4,520.2 L1292.4,518.7 L1292.4,517.2 L1292.4,515.7 L1292.4,514.2 L1292.4,512.7 L1292.4,511.2 L1292.4,509.7 L1292.4,508.2 L1292.4,506.7 L1292.4,505.2 L1292.4,503.7 L1292.4,502.2 L1292.4,500.7 L1292.4,499.2 L1292.4,497.8 L1292.4,496.3 L1292.4,494.8 L1292.4,493.3 L1292.4,491.8 L1292.4,490.3 L1292.4,488.8 L1292.4,487.3 L1292.4,485.8 L1292.4,484.3 L1292.4,482.8 L1292.4,481.3 L1292.4,479.8 L1292.4,478.3 L1292.4,476.8 L1292.4,475.3 L1292.4,473.8 L1292.4,472.3 L1292.4,470.8 L1292.4,469.3 L1292.4,467.8 L1292.4,466.3 L1292.4,464.8 L1292.4,463.3 L1292.4,461.8 L1292.4,460.3 L1292.5,458.8 L1292.5,457.3 L1292.5,455.8 L1292.5,454.3 L1292.5,452.9 L1292.5,451.4 L1292.5,449.9 L1292.5,448.4 L1292.5,446.9 L1292.5,445.4 L1292.5,443.9 L1292.5,442.4 L1292.5,440.9 L1292.5,439.4 L1292.5,437.9 L1292.5,436.4 L1292.5,434.9 L1292.5,433.4 L1292.5,431.9 L1292.5,430.4 L1292.5,428.9 L1292.6,427.4 L1292.6,425.9 L1292.6,424.4 L1292.6,422.9 L1292.6,421.4 L1292.6,419.9 L1292.6,418.4 L1292.6,416.9 L1292.7,415.4 L1292.8,413.9 L1292.9,412.4 L1293.0,410.9 L1293.2,409.4 L1293.4,408.0 L1293.6,406.5 L1293.8,405.0 L1294.1,403.5 L1294.5,402.0 L1294.8,400.5 L1295.2,399.0 L1295.7,397.5 L1296.2,396.0 L1296.8,394.5 L1297.5,393.0 L1298.2,391.5 L1298.9,390.0 L1299.7,388.5 L1300.6,387.0 L1301.5,385.5 L1302.5,384.0 L1303.4,382.5 L1304.4,381.0 L1305.3,379.5 L1306.3,378.0 L1307.3,376.5 L1308.3,375.0 L1309.2,373.5 L1310.0,372.0 L1310.8,370.5 L1311.6,369.0 L1312.3,367.5 L1313.0,366.0 L1313.7,364.6 L1314.2,363.1 L1314.8,361.6 L1315.2,360.1 L1315.6,358.6 L1315.9,357.1 L1316.3,355.6 L1316.6,354.1 L1316.8,352.6 L1317.0,351.1 L1317.0,349.6 L1316.9,348.1 L1316.8,346.6 L1316.7,345.1 L1316.5,343.6 L1316.3,342.1 L1316.1,340.6 L1315.9,339.1 L1315.6,337.6 L1315.3,336.1 L1315.0,334.6 L1314.6,333.1 L1314.2,331.6 L1313.8,330.1 L1313.3,328.6 L1312.7,327.1 L1312.0,325.6 L1311.2,324.1 L1310.4,322.6 L1309.6,321.1 L1308.7,319.7 L1307.9,318.2 L1307.3,316.7 L1306.7,315.2 L1306.2,313.7 L1305.8,312.2 L1305.4,310.7 L1305.0,309.2 L1304.6,307.7 L1304.2,306.2 L1303.9,304.7 L1303.5,303.2 L1303.1,301.7 L1302.8,300.2 L1302.5,298.7 L1302.1,297.2 L1301.8,295.7 L1301.4,294.2 L1301.1,292.7 L1300.8,291.2 L1300.5,289.7 L1300.2,288.2 L1299.8,286.7 L1299.5,285.2 L1299.2,283.7 L1298.9,282.2 L1298.6,280.7 L1298.2,279.2 L1297.9,277.7 L1297.5,276.2 L1297.2,274.8 L1296.9,273.3 L1296.6,271.8 L1296.3,270.3 L1296.0,268.8 L1295.8,267.3 L1295.5,265.8 L1295.4,264.3 L1295.3,262.8 L1295.2,261.3 L1295.1,259.8 L1295.1,258.3 L1295.0,256.8 L1295.0,255.3 L1294.9,253.8 L1294.9,252.3 L1294.9,250.8 L1294.9,249.3 L1295.0,247.8 L1295.0,246.3 L1295.1,244.8 L1295.2,243.3 L1295.3,241.8 L1295.4,240.3 L1295.5,238.8 L1295.6,237.3 L1295.7,235.8 L1295.8,234.3 L1295.9,232.8 L1295.9,231.3 L1296.0,229.9 L1296.1,228.4 L1296.2,226.9 L1296.2,225.4 L1296.3,223.9 L1296.3,222.4 L1296.3,220.9 L1296.3,219.4 L1296.3,217.9 L1296.3,216.4 L1296.3,214.9 L1296.3,213.4 L1296.3,211.9 L1296.3,210.4 L1296.3,208.9Z" fill="#EA69F8" stroke="#2e2e2e" stroke-width="3.8" stroke-linejoin="round"/>
<g fill="#000"><circle cx="798.8" cy="250.6" r="9.7"/><circle cx="817.1" cy="250.6" r="9.7"/><circle cx="835.5" cy="250.6" r="9.7"/><circle cx="853.8" cy="250.6" r="9.7"/><circle cx="872.1" cy="250.6" r="9.7"/><circle cx="890.5" cy="250.6" r="9.7"/><circle cx="908.8" cy="250.6" r="9.7"/><circle cx="835.5" cy="269.8" r="9.7"/><circle cx="853.8" cy="269.8" r="9.7"/><circle cx="872.1" cy="269.8" r="9.7"/><circle cx="807.8" cy="284.1" r="9.7"/><circle cx="826.2" cy="284.1" r="9.7"/><circle cx="844.6" cy="284.1" r="9.7"/><circle cx="863.0" cy="284.1" r="9.7"/><circle cx="881.4" cy="284.1" r="9.7"/><circle cx="899.8" cy="284.1" r="9.7"/><circle cx="954.0" cy="111.7" r="9.7"/><circle cx="972.4" cy="111.7" r="9.7"/><circle cx="963.2" cy="148.9" r="9.7"/><circle cx="944.8" cy="181.4" r="9.7"/><circle cx="963.2" cy="181.4" r="9.7"/><circle cx="981.6" cy="181.4" r="9.7"/><circle cx="944.8" cy="195.7" r="9.7"/><circle cx="963.2" cy="195.7" r="9.7"/><circle cx="981.6" cy="195.7" r="9.7"/><circle cx="954.0" cy="222.5" r="9.7"/><circle cx="972.4" cy="222.5" r="9.7"/><circle cx="963.2" cy="241.3" r="9.7"/><circle cx="954.0" cy="262.3" r="9.7"/><circle cx="972.4" cy="262.3" r="9.7"/><circle cx="963.2" cy="309.4" r="9.7"/><circle cx="1063.4" cy="160.5" r="9.7"/><circle cx="1081.8" cy="160.5" r="9.7"/><circle cx="1072.6" cy="195.0" r="9.7"/><circle cx="1063.4" cy="217.9" r="9.7"/><circle cx="1081.8" cy="217.9" r="9.7"/><circle cx="1035.8" cy="231.8" r="9.7"/><circle cx="1054.2" cy="231.8" r="9.7"/><circle cx="1072.6" cy="231.8" r="9.7"/><circle cx="1091.0" cy="231.8" r="9.7"/><circle cx="1109.4" cy="231.8" r="9.7"/><circle cx="1072.6" cy="292.6" r="9.7"/><circle cx="1063.4" cy="310.3" r="9.7"/><circle cx="1081.8" cy="310.3" r="9.7"/><circle cx="1054.0" cy="333.0" r="9.7"/><circle cx="1072.6" cy="333.0" r="9.7"/><circle cx="1091.2" cy="333.0" r="9.7"/><circle cx="1063.4" cy="354.4" r="9.7"/><circle cx="1081.8" cy="354.4" r="9.7"/><circle cx="1072.6" cy="479.0" r="9.7"/><circle cx="1072.6" cy="556.6" r="9.7"/><circle cx="1182.2" cy="133.1" r="9.7"/><circle cx="1136.2" cy="197.0" r="9.7"/><circle cx="1154.6" cy="197.0" r="9.7"/><circle cx="1173.0" cy="197.0" r="9.7"/><circle cx="1191.4" cy="197.0" r="9.7"/><circle cx="1209.8" cy="197.0" r="9.7"/><circle cx="1228.2" cy="197.0" r="9.7"/><circle cx="1163.8" cy="221.6" r="9.7"/><circle cx="1182.2" cy="221.6" r="9.7"/><circle cx="1200.6" cy="221.6" r="9.7"/><circle cx="1173.0" cy="257.8" r="9.7"/><circle cx="1191.4" cy="257.8" r="9.7"/><circle cx="1163.8" cy="287.4" r="9.7"/><circle cx="1182.2" cy="287.4" r="9.7"/><circle cx="1200.6" cy="287.4" r="9.7"/><circle cx="1163.8" cy="311.1" r="9.7"/><circle cx="1182.2" cy="311.1" r="9.7"/><circle cx="1200.6" cy="311.1" r="9.7"/><circle cx="1182.2" cy="334.8" r="9.7"/><circle cx="1182.2" cy="434.0" r="9.7"/><circle cx="1173.0" cy="562.6" r="9.7"/><circle cx="1191.4" cy="562.6" r="9.7"/><circle cx="1291.6" cy="208.7" r="9.7"/><circle cx="1291.6" cy="234.9" r="9.7"/><circle cx="1291.6" cy="285.4" r="9.7"/><circle cx="1282.4" cy="306.4" r="9.7"/><circle cx="1300.8" cy="306.4" r="9.7"/><circle cx="1282.4" cy="324.9" r="9.7"/><circle cx="1300.8" cy="324.9" r="9.7"/><circle cx="1264.0" cy="343.2" r="9.7"/><circle cx="1282.4" cy="343.2" r="9.7"/><circle cx="1300.8" cy="343.2" r="9.7"/><circle cx="1319.2" cy="343.2" r="9.7"/><circle cx="1254.8" cy="360.8" r="9.7"/><circle cx="1273.2" cy="360.8" r="9.7"/><circle cx="1291.6" cy="360.8" r="9.7"/><circle cx="1310.0" cy="360.8" r="9.7"/><circle cx="1328.4" cy="360.8" r="9.7"/><circle cx="1291.6" cy="382.1" r="9.7"/><circle cx="1291.6" cy="565.7" r="9.7"/></g>
<path d="M90.3,80 V593.5 H649" fill="none" stroke="#000" stroke-width="5.2" stroke-linejoin="miter"/>
<line x1="84.9" x2="88" y1="114.6" y2="114.6" stroke="#000" stroke-width="1.6"/>
<line x1="84.9" x2="88" y1="297.8" y2="297.8" stroke="#000" stroke-width="1.6"/>
<line x1="84.9" x2="88" y1="481" y2="481" stroke="#000" stroke-width="1.6"/>
<line x1="152.3" x2="152.3" y1="596" y2="599.5" stroke="#000" stroke-width="1.6"/>
<line x1="260.2" x2="260.2" y1="596" y2="599.5" stroke="#000" stroke-width="1.6"/>
<line x1="368.2" x2="368.2" y1="596" y2="599.5" stroke="#000" stroke-width="1.6"/>
<line x1="476" x2="476" y1="596" y2="599.5" stroke="#000" stroke-width="1.6"/>
<line x1="583.7" x2="583.7" y1="596" y2="599.5" stroke="#000" stroke-width="1.6"/>
<path d="M790.6,81 V594.5 H1357.5" fill="none" stroke="#000" stroke-width="5.2" stroke-linejoin="miter"/>
<line x1="785.6" x2="788.5" y1="156.8" y2="156.8" stroke="#000" stroke-width="1.6"/>
<line x1="785.6" x2="788.5" y1="248" y2="248" stroke="#000" stroke-width="1.6"/>
<line x1="785.6" x2="788.5" y1="339.2" y2="339.2" stroke="#000" stroke-width="1.6"/>
<line x1="785.6" x2="788.5" y1="430.5" y2="430.5" stroke="#000" stroke-width="1.6"/>
<line x1="785.6" x2="788.5" y1="521.7" y2="521.7" stroke="#000" stroke-width="1.6"/>
<line x1="853.8" x2="853.8" y1="597" y2="600.5" stroke="#000" stroke-width="1.6"/>
<line x1="963.2" x2="963.2" y1="597" y2="600.5" stroke="#000" stroke-width="1.6"/>
<line x1="1072.6" x2="1072.6" y1="597" y2="600.5" stroke="#000" stroke-width="1.6"/>
<line x1="1182.2" x2="1182.2" y1="597" y2="600.5" stroke="#000" stroke-width="1.6"/>
<line x1="1291.6" x2="1291.6" y1="597" y2="600.5" stroke="#000" stroke-width="1.6"/>
<line x1="147.5" x2="260.8" y1="82" y2="82" stroke="#000" stroke-width="3.6"/>
<line x1="265" x2="378.8" y1="82" y2="82" stroke="#000" stroke-width="3.6"/>
<line x1="268" x2="478" y1="51" y2="51" stroke="#000" stroke-width="3.6"/>
<line x1="267" x2="602.5" y1="22" y2="22" stroke="#000" stroke-width="3.6"/>
<line x1="961.6" x2="1297" y1="21.8" y2="21.8" stroke="#000" stroke-width="3.6"/>
<line x1="961" x2="1170.8" y1="54.5" y2="54.5" stroke="#000" stroke-width="3.6"/>
<line x1="960.3" x2="1073.8" y1="86.5" y2="86.5" stroke="#000" stroke-width="3.6"/>
<rect x="1387.5" y="283.7" width="24.5" height="24.2" fill="#FE7369" stroke="#2e2e2e" stroke-width="3.8"/>
<rect x="1387.5" y="313.8" width="24.5" height="24.2" fill="#A5A500" stroke="#2e2e2e" stroke-width="3.8"/>
<rect x="1387.5" y="343.9" width="24.5" height="24.2" fill="#00C27E" stroke="#2e2e2e" stroke-width="3.8"/>
<rect x="1387.5" y="374.0" width="24.5" height="24.2" fill="#00B1FB" stroke="#2e2e2e" stroke-width="3.8"/>
<rect x="1387.5" y="404.1" width="24.5" height="24.2" fill="#EA69F8" stroke="#2e2e2e" stroke-width="3.8"/>
<text transform="translate(83.7,125.69999999999999) scale(1,1.045)" font-size="30" text-anchor="end" style="font-family:'Liberation Sans',Arial,Helvetica,sans-serif;font-weight:bold">300</text>
<text transform="translate(83.7,308.90000000000003) scale(1,1.045)" font-size="30" text-anchor="end" style="font-family:'Liberation Sans',Arial,Helvetica,sans-serif;font-weight:bold">200</text>
<text transform="translate(83.7,492.1) scale(1,1.045)" font-size="30" text-anchor="end" style="font-family:'Liberation Sans',Arial,Helvetica,sans-serif;font-weight:bold">100</text>
<text transform="translate(784.2,167.8) scale(1,1.045)" font-size="30" text-anchor="end" style="font-family:'Liberation Sans',Arial,Helvetica,sans-serif;font-weight:bold">3.0</text>
<text transform="translate(784.2,259) scale(1,1.045)" font-size="30" text-anchor="end" style="font-family:'Liberation Sans',Arial,Helvetica,sans-serif;font-weight:bold">2.5</text>
<text transform="translate(784.2,350.2) scale(1,1.045)" font-size="30" text-anchor="end" style="font-family:'Liberation Sans',Arial,Helvetica,sans-serif;font-weight:bold">2.0</text>
<text transform="translate(784.2,441.5) scale(1,1.045)" font-size="30" text-anchor="end" style="font-family:'Liberation Sans',Arial,Helvetica,sans-serif;font-weight:bold">1.5</text>
<text transform="translate(784.2,532.7) scale(1,1.045)" font-size="30" text-anchor="end" style="font-family:'Liberation Sans',Arial,Helvetica,sans-serif;font-weight:bold">1.0</text>
<text transform="translate(170.60000000000002,611.4) rotate(-60) scale(1,1.045)" font-size="30" text-anchor="end" style="font-family:'Liberation Sans',Arial,Helvetica,sans-serif;font-weight:bold">PT</text>
<text transform="translate(278.5,611.4) rotate(-60) scale(1,1.045)" font-size="30" text-anchor="end" style="font-family:'Liberation Sans',Arial,Helvetica,sans-serif;font-weight:bold">FM</text>
<text transform="translate(386.5,611.4) rotate(-60) scale(1,1.045)" font-size="30" text-anchor="end" style="font-family:'Liberation Sans',Arial,Helvetica,sans-serif;font-weight:bold">PL</text>
<text transform="translate(494.3,611.4) rotate(-60) scale(1,1.045)" font-size="30" text-anchor="end" style="font-family:'Liberation Sans',Arial,Helvetica,sans-serif;font-weight:bold">PHP</text>
<text transform="translate(602.0,611.4) rotate(-60) scale(1,1.045)" font-size="30" text-anchor="end" style="font-family:'Liberation Sans',Arial,Helvetica,sans-serif;font-weight:bold">SPH</text>
<text transform="translate(872.0999999999999,612.3) rotate(-60) scale(1,1.045)" font-size="30" text-anchor="end" style="font-family:'Liberation Sans',Arial,Helvetica,sans-serif;font-weight:bold">PT</text>
<text transform="translate(981.5,612.3) rotate(-60) scale(1,1.045)" font-size="30" text-anchor="end" style="font-family:'Liberation Sans',Arial,Helvetica,sans-serif;font-weight:bold">FM</text>
<text transform="translate(1090.8999999999999,612.3) rotate(-60) scale(1,1.045)" font-size="30" text-anchor="end" style="font-family:'Liberation Sans',Arial,Helvetica,sans-serif;font-weight:bold">PL</text>
<text transform="translate(1200.5,612.3) rotate(-60) scale(1,1.045)" font-size="30" text-anchor="end" style="font-family:'Liberation Sans',Arial,Helvetica,sans-serif;font-weight:bold">PHP</text>
<text transform="translate(1309.8999999999999,612.3) rotate(-60) scale(1,1.045)" font-size="30" text-anchor="end" style="font-family:'Liberation Sans',Arial,Helvetica,sans-serif;font-weight:bold">SPH</text>
<text transform="translate(29.8,339.2) rotate(-90) scale(1,1.045)" font-size="36" text-anchor="middle" style="font-family:'Liberation Sans',Arial,Helvetica,sans-serif;font-weight:bold">Chao1</text>
<text transform="translate(736.6,337) rotate(-90) scale(1,1.045)" font-size="36.4" text-anchor="middle" style="font-family:'Liberation Sans',Arial,Helvetica,sans-serif;font-weight:bold">Shannon Index</text>
<text transform="translate(-1.8,651.3)" font-size="45" text-anchor="start" style="font-family:'DejaVu Sans','Liberation Sans',sans-serif">a.</text>
<text transform="translate(709,651.8)" font-size="45" text-anchor="start" style="font-family:'DejaVu Sans','Liberation Sans',sans-serif">b.</text>
<text x="203.7" y="80.1" font-size="30" text-anchor="middle" style="font-family:'DejaVu Sans','Liberation Sans',sans-serif" letter-spacing="3.5">*</text>
<text x="320.7" y="81.1" font-size="30" text-anchor="middle" style="font-family:'DejaVu Sans','Liberation Sans',sans-serif" letter-spacing="3.5">**</text>
<text x="370.7" y="53.6" font-size="30" text-anchor="middle" style="font-family:'DejaVu Sans','Liberation Sans',sans-serif" letter-spacing="3.5">***</text>
<text x="437.7" y="23.1" font-size="30" text-anchor="middle" style="font-family:'DejaVu Sans','Liberation Sans',sans-serif" letter-spacing="3.5">*</text>
<text x="1129.2" y="21.6" font-size="30" text-anchor="middle" style="font-family:'DejaVu Sans','Liberation Sans',sans-serif" letter-spacing="3.5">***</text>
<text x="1072.2" y="53.6" font-size="30" text-anchor="middle" style="font-family:'DejaVu Sans','Liberation Sans',sans-serif" letter-spacing="3.5">*</text>
<text x="1017.7" y="88.6" font-size="30" text-anchor="middle" style="font-family:'DejaVu Sans','Liberation Sans',sans-serif" letter-spacing="3.5">*</text>
<text transform="translate(1435.2,306.5) scale(1,1.045)" font-size="29.5" text-anchor="start" style="font-family:'Liberation Sans',Arial,Helvetica,sans-serif;font-weight:bold">PT</text>
<text transform="translate(1435.2,336.6) scale(1,1.045)" font-size="29.5" text-anchor="start" style="font-family:'Liberation Sans',Arial,Helvetica,sans-serif;font-weight:bold">FM</text>
<text transform="translate(1435.2,366.7) scale(1,1.045)" font-size="29.5" text-anchor="start" style="font-family:'Liberation Sans',Arial,Helvetica,sans-serif;font-weight:bold">PL</text>
<text transform="translate(1435.2,396.8) scale(1,1.045)" font-size="29.5" text-anchor="start" style="font-family:'Liberation Sans',Arial,Helvetica,sans-serif;font-weight:bold">PHP</text>
<text transform="translate(1435.2,426.9) scale(1,1.045)" font-size="29.5" text-anchor="start" style="font-family:'Liberation Sans',Arial,Helvetica,sans-serif;font-weight:bold">SPH</text></svg>
</body></html>
